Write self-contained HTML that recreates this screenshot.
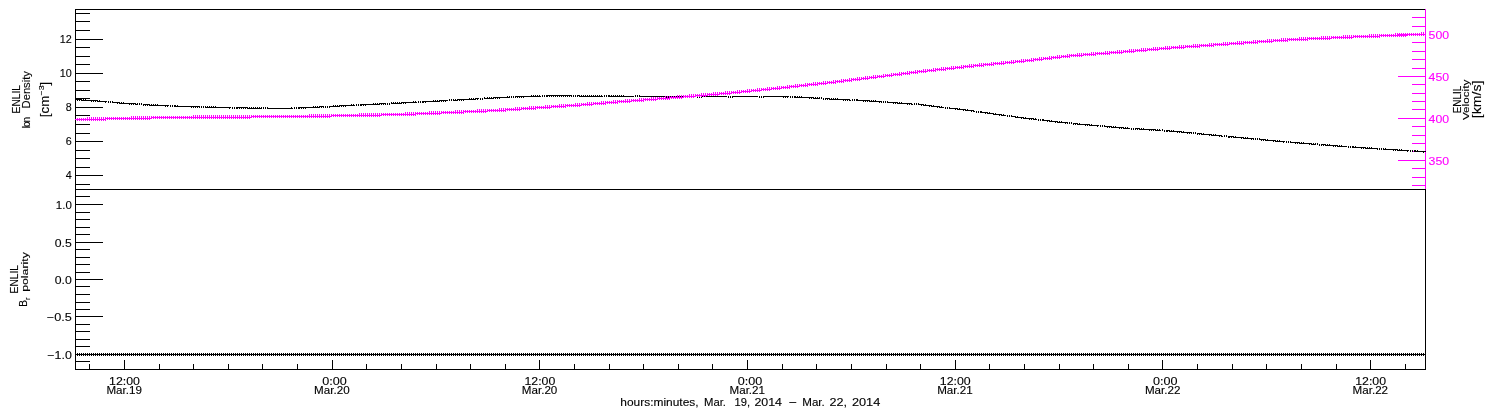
<!DOCTYPE html>
<html><head><meta charset="utf-8"><title>ENLIL plot</title>
<style>
html,body{margin:0;padding:0;background:#fff;}
body{width:1500px;height:410px;overflow:hidden;font-family:"Liberation Sans",sans-serif;}
svg{display:block;font-family:"Liberation Sans",sans-serif;will-change:transform;}
</style></head>
<body>
<svg width="1500" height="410" viewBox="0 0 1500 410">
<g shape-rendering="crispEdges">
<path d="M75 9h1351v1h-1351zM75 189h1351v1h-1351zM75 369h1351v1h-1351zM75 9h1v361h-1zM1425 189h1v181h-1zM75 184h15v1h-15zM75 175h28v1h-28zM75 167h15v1h-15zM75 158h15v1h-15zM75 150h15v1h-15zM75 141h28v1h-28zM75 133h15v1h-15zM75 124h15v1h-15zM75 115h15v1h-15zM75 107h28v1h-28zM75 98h15v1h-15zM75 90h15v1h-15zM75 81h15v1h-15zM75 73h28v1h-28zM75 64h15v1h-15zM75 56h15v1h-15zM75 47h15v1h-15zM75 39h28v1h-28zM75 30h15v1h-15zM75 21h15v1h-15zM75 13h15v1h-15zM75 196h15v1h-15zM75 204h28v1h-28zM75 212h15v1h-15zM75 219h15v1h-15zM75 227h15v1h-15zM75 234h15v1h-15zM75 242h28v1h-28zM75 249h15v1h-15zM75 257h15v1h-15zM75 264h15v1h-15zM75 272h15v1h-15zM75 279h28v1h-28zM75 286h15v1h-15zM75 294h15v1h-15zM75 302h15v1h-15zM75 309h15v1h-15zM75 316h28v1h-28zM75 324h15v1h-15zM75 331h15v1h-15zM75 339h15v1h-15zM75 346h15v1h-15zM75 354h28v1h-28zM75 361h15v1h-15zM89 364h1v5h-1zM124 360h1v9h-1zM159 364h1v5h-1zM193 364h1v5h-1zM228 364h1v5h-1zM262 364h1v5h-1zM297 364h1v5h-1zM332 360h1v9h-1zM366 364h1v5h-1zM401 364h1v5h-1zM436 364h1v5h-1zM470 364h1v5h-1zM505 364h1v5h-1zM539 360h1v9h-1zM574 364h1v5h-1zM609 364h1v5h-1zM643 364h1v5h-1zM678 364h1v5h-1zM712 364h1v5h-1zM747 360h1v9h-1zM782 364h1v5h-1zM816 364h1v5h-1zM851 364h1v5h-1zM886 364h1v5h-1zM920 364h1v5h-1zM955 360h1v9h-1zM989 364h1v5h-1zM1024 364h1v5h-1zM1059 364h1v5h-1zM1093 364h1v5h-1zM1128 364h1v5h-1zM1162 360h1v9h-1zM1197 364h1v5h-1zM1232 364h1v5h-1zM1266 364h1v5h-1zM1301 364h1v5h-1zM1336 364h1v5h-1zM1370 360h1v9h-1zM1405 364h1v5h-1z" fill="#000"/>
<path d="M1425 9h1v180h-1zM1412 17h13v1h-13zM1412 26h13v1h-13zM1398 34h27v1h-27zM1412 42h13v1h-13zM1412 51h13v1h-13zM1412 59h13v1h-13zM1412 68h13v1h-13zM1398 76h27v1h-27zM1412 84h13v1h-13zM1412 93h13v1h-13zM1412 101h13v1h-13zM1412 109h13v1h-13zM1398 118h27v1h-27zM1412 126h13v1h-13zM1412 135h13v1h-13zM1412 143h13v1h-13zM1412 151h13v1h-13zM1398 160h27v1h-27zM1412 168h13v1h-13zM1412 177h13v1h-13zM1412 185h13v1h-13z" fill="#ff00ff"/>
<path d="M75 99h1v1h-1zM76 99h1v1h-1zM77 99h1v1h-1zM77 100h1v1h-1zM78 99h1v1h-1zM79 99h1v1h-1zM79 100h1v1h-1zM80 99h1v1h-1zM81 100h1v1h-1zM81 99h1v1h-1zM82 100h1v1h-1zM83 100h1v1h-1zM83 99h1v1h-1zM84 100h1v1h-1zM85 100h1v1h-1zM85 99h1v1h-1zM86 100h1v1h-1zM87 100h1v1h-1zM88 100h1v1h-1zM89 100h1v1h-1zM90 100h1v1h-1zM91 100h1v1h-1zM91 101h1v1h-1zM92 100h1v1h-1zM93 100h1v1h-1zM93 101h1v1h-1zM94 100h1v1h-1zM95 100h1v1h-1zM95 101h1v1h-1zM96 100h1v1h-1zM97 101h1v1h-1zM97 100h1v1h-1zM98 101h1v1h-1zM99 101h1v1h-1zM99 100h1v1h-1zM100 101h1v1h-1zM101 101h1v1h-1zM102 101h1v1h-1zM103 101h1v1h-1zM104 101h1v1h-1zM105 101h1v1h-1zM105 102h1v1h-1zM106 101h1v1h-1zM108 101h1v2h-1zM110 101h1v2h-1zM112 101h1v2h-1zM113 102h1v1h-1zM114 102h1v1h-1zM115 102h1v1h-1zM116 102h1v1h-1zM117 102h1v1h-1zM117 103h1v1h-1zM118 102h1v1h-1zM119 102h1v1h-1zM119 103h1v1h-1zM120 103h1v1h-1zM121 103h1v1h-1zM121 102h1v1h-1zM122 103h1v1h-1zM123 103h1v1h-1zM123 102h1v1h-1zM124 103h1v1h-1zM125 103h1v1h-1zM126 103h1v1h-1zM127 103h1v1h-1zM128 103h1v1h-1zM129 103h1v1h-1zM129 104h1v1h-1zM130 103h1v1h-1zM131 103h1v1h-1zM131 104h1v1h-1zM132 103h1v1h-1zM133 103h1v1h-1zM133 104h1v1h-1zM134 103h1v1h-1zM135 104h1v1h-1zM135 103h1v1h-1zM136 104h1v1h-1zM137 104h1v1h-1zM137 103h1v1h-1zM139 103h1v2h-1zM141 103h1v2h-1zM143 104h1v2h-1zM144 104h1v1h-1zM145 104h1v1h-1zM145 105h1v1h-1zM146 104h1v1h-1zM147 104h1v1h-1zM147 105h1v1h-1zM148 104h1v1h-1zM149 104h1v1h-1zM149 105h1v1h-1zM150 105h1v1h-1zM151 105h1v1h-1zM151 104h1v1h-1zM152 105h1v1h-1zM153 105h1v1h-1zM153 104h1v1h-1zM154 105h1v1h-1zM155 105h1v1h-1zM155 104h1v1h-1zM156 105h1v1h-1zM157 105h1v1h-1zM157 104h1v1h-1zM158 105h1v1h-1zM159 105h1v1h-1zM160 105h1v1h-1zM161 105h1v1h-1zM162 105h1v1h-1zM163 105h1v1h-1zM164 105h1v1h-1zM165 105h1v1h-1zM165 106h1v1h-1zM166 105h1v1h-1zM167 105h1v1h-1zM167 106h1v1h-1zM168 105h1v1h-1zM170 105h1v2h-1zM172 105h1v2h-1zM174 105h1v2h-1zM175 106h1v1h-1zM175 105h1v1h-1zM176 106h1v1h-1zM177 106h1v1h-1zM177 105h1v1h-1zM178 106h1v1h-1zM179 106h1v1h-1zM180 106h1v1h-1zM181 106h1v1h-1zM182 106h1v1h-1zM183 106h1v1h-1zM184 106h1v1h-1zM185 106h1v1h-1zM186 106h1v1h-1zM187 106h1v1h-1zM188 106h1v1h-1zM189 106h1v1h-1zM190 106h1v1h-1zM191 106h1v1h-1zM191 107h1v1h-1zM192 106h1v1h-1zM193 106h1v1h-1zM193 107h1v1h-1zM194 106h1v1h-1zM195 106h1v1h-1zM195 107h1v1h-1zM196 106h1v1h-1zM197 106h1v1h-1zM197 107h1v1h-1zM198 106h1v1h-1zM199 106h1v1h-1zM199 107h1v1h-1zM201 106h1v2h-1zM203 106h1v2h-1zM205 106h1v2h-1zM206 107h1v1h-1zM207 107h1v1h-1zM207 106h1v1h-1zM208 107h1v1h-1zM209 107h1v1h-1zM209 106h1v1h-1zM210 107h1v1h-1zM211 107h1v1h-1zM211 106h1v1h-1zM212 107h1v1h-1zM213 107h1v1h-1zM213 106h1v1h-1zM214 107h1v1h-1zM215 107h1v1h-1zM215 106h1v1h-1zM216 107h1v1h-1zM217 107h1v1h-1zM218 107h1v1h-1zM219 107h1v1h-1zM220 107h1v1h-1zM221 107h1v1h-1zM222 107h1v1h-1zM223 107h1v1h-1zM224 107h1v1h-1zM225 107h1v1h-1zM226 107h1v1h-1zM227 107h1v1h-1zM228 107h1v1h-1zM229 107h1v1h-1zM229 108h1v1h-1zM230 107h1v1h-1zM232 107h1v2h-1zM234 107h1v2h-1zM236 107h1v2h-1zM237 107h1v1h-1zM237 108h1v1h-1zM238 107h1v1h-1zM239 107h1v1h-1zM239 108h1v1h-1zM240 107h1v1h-1zM241 107h1v1h-1zM241 108h1v1h-1zM242 107h1v1h-1zM243 107h1v1h-1zM243 108h1v1h-1zM244 107h1v1h-1zM245 107h1v1h-1zM245 108h1v1h-1zM246 107h1v1h-1zM247 107h1v1h-1zM247 108h1v1h-1zM248 108h1v1h-1zM249 108h1v1h-1zM249 107h1v1h-1zM250 108h1v1h-1zM251 108h1v1h-1zM251 107h1v1h-1zM252 108h1v1h-1zM253 108h1v1h-1zM253 107h1v1h-1zM254 108h1v1h-1zM255 108h1v1h-1zM255 107h1v1h-1zM256 108h1v1h-1zM257 108h1v1h-1zM257 107h1v1h-1zM258 108h1v1h-1zM259 108h1v1h-1zM259 107h1v1h-1zM260 108h1v1h-1zM261 108h1v1h-1zM261 107h1v1h-1zM263 107h1v2h-1zM265 107h1v2h-1zM267 107h1v2h-1zM268 108h1v1h-1zM269 108h1v1h-1zM270 108h1v1h-1zM271 108h1v1h-1zM272 108h1v1h-1zM273 108h1v1h-1zM274 108h1v1h-1zM275 108h1v1h-1zM276 108h1v1h-1zM277 108h1v1h-1zM278 108h1v1h-1zM279 108h1v1h-1zM280 108h1v1h-1zM281 108h1v1h-1zM282 108h1v1h-1zM283 108h1v1h-1zM284 108h1v1h-1zM285 108h1v1h-1zM286 108h1v1h-1zM287 108h1v1h-1zM288 108h1v1h-1zM289 108h1v1h-1zM290 108h1v1h-1zM291 108h1v1h-1zM291 107h1v1h-1zM292 108h1v1h-1zM294 107h1v2h-1zM296 107h1v2h-1zM298 107h1v2h-1zM299 107h1v1h-1zM299 108h1v1h-1zM300 107h1v1h-1zM301 107h1v1h-1zM301 108h1v1h-1zM302 107h1v1h-1zM303 107h1v1h-1zM303 108h1v1h-1zM304 107h1v1h-1zM305 107h1v1h-1zM305 108h1v1h-1zM306 107h1v1h-1zM307 107h1v1h-1zM308 107h1v1h-1zM309 107h1v1h-1zM310 107h1v1h-1zM311 107h1v1h-1zM312 107h1v1h-1zM313 107h1v1h-1zM313 106h1v1h-1zM314 107h1v1h-1zM315 107h1v1h-1zM315 106h1v1h-1zM316 107h1v1h-1zM317 107h1v1h-1zM317 106h1v1h-1zM318 107h1v1h-1zM319 107h1v1h-1zM319 106h1v1h-1zM320 106h1v1h-1zM321 106h1v1h-1zM321 107h1v1h-1zM322 106h1v1h-1zM323 106h1v1h-1zM323 107h1v1h-1zM325 106h1v2h-1zM327 106h1v2h-1zM329 106h1v2h-1zM330 106h1v1h-1zM331 106h1v1h-1zM332 106h1v1h-1zM333 106h1v1h-1zM333 105h1v1h-1zM334 106h1v1h-1zM335 106h1v1h-1zM335 105h1v1h-1zM336 106h1v1h-1zM337 106h1v1h-1zM337 105h1v1h-1zM338 106h1v1h-1zM339 105h1v1h-1zM339 106h1v1h-1zM340 105h1v1h-1zM341 105h1v1h-1zM341 106h1v1h-1zM342 105h1v1h-1zM343 105h1v1h-1zM343 106h1v1h-1zM344 105h1v1h-1zM345 105h1v1h-1zM345 106h1v1h-1zM346 105h1v1h-1zM347 105h1v1h-1zM348 105h1v1h-1zM349 105h1v1h-1zM350 105h1v1h-1zM351 105h1v1h-1zM351 104h1v1h-1zM352 105h1v1h-1zM353 105h1v1h-1zM353 104h1v1h-1zM354 105h1v1h-1zM356 104h1v2h-1zM358 104h1v2h-1zM360 104h1v2h-1zM361 104h1v1h-1zM361 105h1v1h-1zM362 104h1v1h-1zM363 104h1v1h-1zM363 105h1v1h-1zM364 104h1v1h-1zM365 104h1v1h-1zM365 105h1v1h-1zM366 104h1v1h-1zM367 104h1v1h-1zM368 104h1v1h-1zM369 104h1v1h-1zM370 104h1v1h-1zM371 104h1v1h-1zM372 104h1v1h-1zM373 104h1v1h-1zM373 103h1v1h-1zM374 104h1v1h-1zM375 104h1v1h-1zM375 103h1v1h-1zM376 104h1v1h-1zM377 104h1v1h-1zM377 103h1v1h-1zM378 104h1v1h-1zM379 104h1v1h-1zM379 103h1v1h-1zM380 103h1v1h-1zM381 103h1v1h-1zM381 104h1v1h-1zM382 103h1v1h-1zM383 103h1v1h-1zM383 104h1v1h-1zM384 103h1v1h-1zM385 103h1v1h-1zM385 104h1v1h-1zM387 103h1v2h-1zM389 103h1v2h-1zM391 102h1v2h-1zM392 103h1v1h-1zM393 103h1v1h-1zM393 102h1v1h-1zM394 103h1v1h-1zM395 103h1v1h-1zM395 102h1v1h-1zM396 103h1v1h-1zM397 103h1v1h-1zM397 102h1v1h-1zM398 103h1v1h-1zM399 103h1v1h-1zM399 102h1v1h-1zM400 103h1v1h-1zM401 102h1v1h-1zM401 103h1v1h-1zM402 102h1v1h-1zM403 102h1v1h-1zM403 103h1v1h-1zM404 102h1v1h-1zM405 102h1v1h-1zM405 103h1v1h-1zM406 102h1v1h-1zM407 102h1v1h-1zM408 102h1v1h-1zM409 102h1v1h-1zM410 102h1v1h-1zM411 102h1v1h-1zM412 102h1v1h-1zM413 102h1v1h-1zM413 101h1v1h-1zM414 102h1v1h-1zM415 102h1v1h-1zM415 101h1v1h-1zM416 102h1v1h-1zM418 101h1v2h-1zM420 101h1v2h-1zM422 101h1v2h-1zM423 101h1v1h-1zM423 102h1v1h-1zM424 101h1v1h-1zM425 101h1v1h-1zM425 102h1v1h-1zM426 101h1v1h-1zM427 101h1v1h-1zM428 101h1v1h-1zM429 101h1v1h-1zM430 101h1v1h-1zM431 101h1v1h-1zM432 101h1v1h-1zM433 101h1v1h-1zM433 100h1v1h-1zM434 101h1v1h-1zM435 101h1v1h-1zM435 100h1v1h-1zM436 101h1v1h-1zM437 101h1v1h-1zM437 100h1v1h-1zM438 101h1v1h-1zM439 100h1v1h-1zM439 101h1v1h-1zM440 100h1v1h-1zM441 100h1v1h-1zM441 101h1v1h-1zM442 100h1v1h-1zM443 100h1v1h-1zM443 101h1v1h-1zM444 100h1v1h-1zM445 100h1v1h-1zM445 101h1v1h-1zM446 100h1v1h-1zM447 100h1v1h-1zM449 99h1v2h-1zM451 99h1v2h-1zM453 99h1v2h-1zM454 100h1v1h-1zM455 100h1v1h-1zM455 99h1v1h-1zM456 100h1v1h-1zM457 100h1v1h-1zM457 99h1v1h-1zM458 99h1v1h-1zM459 99h1v1h-1zM459 100h1v1h-1zM460 99h1v1h-1zM461 99h1v1h-1zM461 100h1v1h-1zM462 99h1v1h-1zM463 99h1v1h-1zM463 100h1v1h-1zM464 99h1v1h-1zM465 99h1v1h-1zM466 99h1v1h-1zM467 99h1v1h-1zM468 99h1v1h-1zM469 99h1v1h-1zM469 98h1v1h-1zM470 99h1v1h-1zM471 99h1v1h-1zM471 98h1v1h-1zM472 99h1v1h-1zM473 99h1v1h-1zM473 98h1v1h-1zM474 99h1v1h-1zM475 99h1v1h-1zM475 98h1v1h-1zM476 98h1v1h-1zM477 98h1v1h-1zM477 99h1v1h-1zM478 98h1v1h-1zM480 98h1v2h-1zM482 98h1v2h-1zM484 97h1v2h-1zM485 98h1v1h-1zM486 98h1v1h-1zM487 98h1v1h-1zM487 97h1v1h-1zM488 98h1v1h-1zM489 98h1v1h-1zM489 97h1v1h-1zM490 98h1v1h-1zM491 98h1v1h-1zM491 97h1v1h-1zM492 98h1v1h-1zM493 97h1v1h-1zM493 98h1v1h-1zM494 97h1v1h-1zM495 97h1v1h-1zM495 98h1v1h-1zM496 97h1v1h-1zM497 97h1v1h-1zM497 98h1v1h-1zM498 97h1v1h-1zM499 97h1v1h-1zM499 98h1v1h-1zM500 97h1v1h-1zM501 97h1v1h-1zM502 97h1v1h-1zM503 97h1v1h-1zM504 97h1v1h-1zM505 97h1v1h-1zM506 97h1v1h-1zM507 97h1v1h-1zM507 96h1v1h-1zM508 97h1v1h-1zM509 97h1v1h-1zM509 96h1v1h-1zM511 96h1v2h-1zM513 96h1v2h-1zM515 96h1v2h-1zM516 96h1v1h-1zM517 96h1v1h-1zM517 97h1v1h-1zM518 96h1v1h-1zM519 96h1v1h-1zM519 97h1v1h-1zM520 96h1v1h-1zM521 96h1v1h-1zM521 97h1v1h-1zM522 96h1v1h-1zM523 96h1v1h-1zM523 97h1v1h-1zM524 96h1v1h-1zM525 96h1v1h-1zM526 96h1v1h-1zM527 96h1v1h-1zM528 96h1v1h-1zM529 96h1v1h-1zM530 96h1v1h-1zM531 96h1v1h-1zM531 95h1v1h-1zM532 96h1v1h-1zM533 96h1v1h-1zM533 95h1v1h-1zM534 96h1v1h-1zM535 96h1v1h-1zM535 95h1v1h-1zM536 96h1v1h-1zM537 96h1v1h-1zM537 95h1v1h-1zM538 96h1v1h-1zM539 96h1v1h-1zM539 95h1v1h-1zM540 96h1v1h-1zM542 95h1v2h-1zM544 95h1v2h-1zM546 95h1v2h-1zM547 95h1v1h-1zM547 96h1v1h-1zM548 95h1v1h-1zM549 95h1v1h-1zM549 96h1v1h-1zM550 95h1v1h-1zM551 95h1v1h-1zM551 96h1v1h-1zM552 95h1v1h-1zM553 95h1v1h-1zM553 96h1v1h-1zM554 95h1v1h-1zM555 95h1v1h-1zM555 96h1v1h-1zM556 95h1v1h-1zM557 95h1v1h-1zM557 96h1v1h-1zM558 95h1v1h-1zM559 95h1v1h-1zM559 96h1v1h-1zM560 95h1v1h-1zM561 95h1v1h-1zM561 96h1v1h-1zM562 95h1v1h-1zM563 95h1v1h-1zM563 96h1v1h-1zM564 95h1v1h-1zM565 95h1v1h-1zM565 96h1v1h-1zM566 95h1v1h-1zM567 95h1v1h-1zM567 96h1v1h-1zM568 95h1v1h-1zM569 95h1v1h-1zM569 96h1v1h-1zM570 95h1v1h-1zM571 95h1v1h-1zM571 96h1v1h-1zM573 95h1v2h-1zM575 95h1v2h-1zM577 95h1v2h-1zM578 95h1v1h-1zM579 95h1v1h-1zM579 96h1v1h-1zM580 96h1v1h-1zM581 96h1v1h-1zM581 95h1v1h-1zM582 96h1v1h-1zM583 96h1v1h-1zM583 95h1v1h-1zM584 96h1v1h-1zM585 96h1v1h-1zM585 95h1v1h-1zM586 96h1v1h-1zM587 96h1v1h-1zM587 95h1v1h-1zM588 96h1v1h-1zM589 96h1v1h-1zM589 95h1v1h-1zM590 96h1v1h-1zM591 96h1v1h-1zM591 95h1v1h-1zM592 96h1v1h-1zM593 96h1v1h-1zM593 95h1v1h-1zM594 96h1v1h-1zM595 96h1v1h-1zM595 95h1v1h-1zM596 96h1v1h-1zM597 96h1v1h-1zM597 95h1v1h-1zM598 96h1v1h-1zM599 96h1v1h-1zM599 95h1v1h-1zM600 96h1v1h-1zM601 96h1v1h-1zM601 95h1v1h-1zM602 96h1v1h-1zM604 95h1v2h-1zM606 95h1v2h-1zM608 95h1v2h-1zM609 96h1v1h-1zM609 95h1v1h-1zM610 96h1v1h-1zM611 96h1v1h-1zM611 95h1v1h-1zM612 96h1v1h-1zM613 96h1v1h-1zM613 95h1v1h-1zM614 96h1v1h-1zM615 96h1v1h-1zM615 95h1v1h-1zM616 96h1v1h-1zM617 96h1v1h-1zM617 95h1v1h-1zM618 96h1v1h-1zM619 96h1v1h-1zM619 95h1v1h-1zM620 96h1v1h-1zM621 96h1v1h-1zM621 95h1v1h-1zM622 96h1v1h-1zM623 96h1v1h-1zM623 95h1v1h-1zM624 96h1v1h-1zM625 96h1v1h-1zM626 96h1v1h-1zM627 96h1v1h-1zM628 96h1v1h-1zM629 96h1v1h-1zM630 96h1v1h-1zM631 96h1v1h-1zM632 96h1v1h-1zM633 96h1v1h-1zM635 95h1v2h-1zM637 95h1v2h-1zM639 95h1v2h-1zM640 96h1v1h-1zM641 96h1v1h-1zM642 96h1v1h-1zM643 96h1v1h-1zM644 96h1v1h-1zM645 96h1v1h-1zM646 96h1v1h-1zM647 96h1v1h-1zM648 96h1v1h-1zM649 96h1v1h-1zM650 96h1v1h-1zM651 96h1v1h-1zM652 96h1v1h-1zM653 96h1v1h-1zM654 96h1v1h-1zM655 96h1v1h-1zM656 96h1v1h-1zM657 96h1v1h-1zM658 96h1v1h-1zM659 96h1v1h-1zM660 96h1v1h-1zM661 96h1v1h-1zM662 96h1v1h-1zM663 96h1v1h-1zM664 96h1v1h-1zM666 96h1v2h-1zM668 96h1v2h-1zM670 96h1v2h-1zM671 96h1v1h-1zM672 96h1v1h-1zM673 96h1v1h-1zM674 96h1v1h-1zM675 96h1v1h-1zM676 96h1v1h-1zM677 96h1v1h-1zM678 96h1v1h-1zM679 96h1v1h-1zM680 96h1v1h-1zM681 96h1v1h-1zM682 96h1v1h-1zM683 96h1v1h-1zM684 96h1v1h-1zM685 96h1v1h-1zM686 96h1v1h-1zM687 96h1v1h-1zM688 96h1v1h-1zM689 96h1v1h-1zM690 96h1v1h-1zM691 96h1v1h-1zM692 96h1v1h-1zM693 96h1v1h-1zM694 96h1v1h-1zM695 96h1v1h-1zM697 96h1v2h-1zM699 96h1v2h-1zM701 96h1v2h-1zM702 96h1v1h-1zM703 96h1v1h-1zM704 96h1v1h-1zM705 96h1v1h-1zM706 96h1v1h-1zM707 96h1v1h-1zM708 96h1v1h-1zM709 96h1v1h-1zM710 96h1v1h-1zM711 96h1v1h-1zM712 96h1v1h-1zM713 96h1v1h-1zM714 96h1v1h-1zM715 96h1v1h-1zM716 96h1v1h-1zM717 96h1v1h-1zM718 96h1v1h-1zM719 96h1v1h-1zM720 96h1v1h-1zM721 96h1v1h-1zM722 96h1v1h-1zM723 96h1v1h-1zM724 96h1v1h-1zM725 96h1v1h-1zM726 96h1v1h-1zM728 96h1v2h-1zM730 96h1v2h-1zM732 96h1v2h-1zM733 96h1v1h-1zM734 96h1v1h-1zM735 96h1v1h-1zM736 96h1v1h-1zM737 96h1v1h-1zM738 96h1v1h-1zM739 96h1v1h-1zM740 96h1v1h-1zM741 96h1v1h-1zM742 96h1v1h-1zM743 96h1v1h-1zM744 96h1v1h-1zM745 96h1v1h-1zM746 96h1v1h-1zM747 96h1v1h-1zM748 96h1v1h-1zM749 96h1v1h-1zM750 96h1v1h-1zM751 96h1v1h-1zM752 96h1v1h-1zM753 96h1v1h-1zM754 96h1v1h-1zM755 96h1v1h-1zM756 96h1v1h-1zM757 96h1v1h-1zM759 96h1v2h-1zM761 96h1v2h-1zM763 96h1v2h-1zM764 96h1v1h-1zM765 96h1v1h-1zM766 96h1v1h-1zM767 96h1v1h-1zM768 96h1v1h-1zM769 96h1v1h-1zM770 96h1v1h-1zM771 96h1v1h-1zM772 96h1v1h-1zM773 96h1v1h-1zM774 96h1v1h-1zM775 96h1v1h-1zM776 96h1v1h-1zM777 96h1v1h-1zM778 96h1v1h-1zM779 96h1v1h-1zM780 96h1v1h-1zM781 96h1v1h-1zM782 96h1v1h-1zM783 96h1v1h-1zM783 97h1v1h-1zM784 96h1v1h-1zM785 96h1v1h-1zM785 97h1v1h-1zM786 96h1v1h-1zM787 96h1v1h-1zM787 97h1v1h-1zM788 96h1v1h-1zM790 96h1v2h-1zM792 96h1v2h-1zM794 96h1v2h-1zM795 97h1v1h-1zM795 96h1v1h-1zM796 97h1v1h-1zM797 97h1v1h-1zM797 96h1v1h-1zM798 97h1v1h-1zM799 97h1v1h-1zM799 96h1v1h-1zM800 97h1v1h-1zM801 97h1v1h-1zM801 96h1v1h-1zM802 97h1v1h-1zM803 97h1v1h-1zM804 97h1v1h-1zM805 97h1v1h-1zM806 97h1v1h-1zM807 97h1v1h-1zM808 97h1v1h-1zM809 97h1v1h-1zM809 98h1v1h-1zM810 97h1v1h-1zM811 97h1v1h-1zM811 98h1v1h-1zM812 97h1v1h-1zM813 97h1v1h-1zM813 98h1v1h-1zM814 98h1v1h-1zM815 98h1v1h-1zM815 97h1v1h-1zM816 98h1v1h-1zM817 98h1v1h-1zM817 97h1v1h-1zM818 98h1v1h-1zM819 98h1v1h-1zM819 97h1v1h-1zM821 97h1v2h-1zM823 98h1v2h-1zM825 98h1v2h-1zM826 98h1v1h-1zM827 98h1v1h-1zM827 99h1v1h-1zM828 98h1v1h-1zM829 98h1v1h-1zM829 99h1v1h-1zM830 99h1v1h-1zM831 99h1v1h-1zM831 98h1v1h-1zM832 99h1v1h-1zM833 99h1v1h-1zM833 98h1v1h-1zM834 99h1v1h-1zM835 99h1v1h-1zM835 98h1v1h-1zM836 99h1v1h-1zM837 99h1v1h-1zM837 98h1v1h-1zM838 99h1v1h-1zM839 99h1v1h-1zM840 99h1v1h-1zM841 99h1v1h-1zM842 99h1v1h-1zM843 99h1v1h-1zM843 100h1v1h-1zM844 99h1v1h-1zM845 99h1v1h-1zM845 100h1v1h-1zM846 99h1v1h-1zM847 99h1v1h-1zM847 100h1v1h-1zM848 99h1v1h-1zM849 99h1v1h-1zM849 100h1v1h-1zM850 100h1v1h-1zM852 99h1v2h-1zM854 99h1v2h-1zM856 99h1v2h-1zM857 100h1v1h-1zM857 99h1v1h-1zM858 100h1v1h-1zM859 100h1v1h-1zM860 100h1v1h-1zM861 100h1v1h-1zM862 100h1v1h-1zM863 100h1v1h-1zM863 101h1v1h-1zM864 100h1v1h-1zM865 100h1v1h-1zM865 101h1v1h-1zM866 100h1v1h-1zM867 100h1v1h-1zM867 101h1v1h-1zM868 100h1v1h-1zM869 100h1v1h-1zM869 101h1v1h-1zM870 101h1v1h-1zM871 101h1v1h-1zM871 100h1v1h-1zM872 101h1v1h-1zM873 101h1v1h-1zM873 100h1v1h-1zM874 101h1v1h-1zM875 101h1v1h-1zM875 100h1v1h-1zM876 101h1v1h-1zM877 101h1v1h-1zM878 101h1v1h-1zM879 101h1v1h-1zM879 102h1v1h-1zM880 101h1v1h-1zM881 101h1v1h-1zM881 102h1v1h-1zM883 101h1v2h-1zM885 101h1v2h-1zM887 101h1v2h-1zM888 102h1v1h-1zM889 102h1v1h-1zM890 102h1v1h-1zM891 102h1v1h-1zM892 102h1v1h-1zM893 102h1v1h-1zM893 103h1v1h-1zM894 102h1v1h-1zM895 102h1v1h-1zM895 103h1v1h-1zM896 102h1v1h-1zM897 102h1v1h-1zM897 103h1v1h-1zM898 103h1v1h-1zM899 103h1v1h-1zM899 102h1v1h-1zM900 103h1v1h-1zM901 103h1v1h-1zM901 102h1v1h-1zM902 103h1v1h-1zM903 103h1v1h-1zM904 103h1v1h-1zM905 103h1v1h-1zM906 103h1v1h-1zM907 103h1v1h-1zM907 104h1v1h-1zM908 103h1v1h-1zM909 103h1v1h-1zM909 104h1v1h-1zM910 103h1v1h-1zM911 103h1v1h-1zM911 104h1v1h-1zM912 104h1v1h-1zM914 103h1v2h-1zM916 103h1v2h-1zM918 103h1v2h-1zM919 104h1v1h-1zM920 104h1v1h-1zM921 104h1v1h-1zM921 105h1v1h-1zM922 104h1v1h-1zM923 104h1v1h-1zM923 105h1v1h-1zM924 105h1v1h-1zM925 105h1v1h-1zM925 104h1v1h-1zM926 105h1v1h-1zM927 105h1v1h-1zM928 105h1v1h-1zM929 105h1v1h-1zM929 106h1v1h-1zM930 105h1v1h-1zM931 105h1v1h-1zM931 106h1v1h-1zM932 106h1v1h-1zM933 106h1v1h-1zM933 105h1v1h-1zM934 106h1v1h-1zM935 106h1v1h-1zM936 106h1v1h-1zM937 106h1v1h-1zM937 107h1v1h-1zM938 106h1v1h-1zM939 106h1v1h-1zM939 107h1v1h-1zM940 107h1v1h-1zM941 107h1v1h-1zM941 106h1v1h-1zM942 107h1v1h-1zM943 107h1v1h-1zM945 107h1v2h-1zM947 107h1v2h-1zM949 107h1v2h-1zM950 108h1v1h-1zM951 108h1v1h-1zM952 108h1v1h-1zM953 108h1v1h-1zM954 108h1v1h-1zM955 108h1v1h-1zM955 109h1v1h-1zM956 108h1v1h-1zM957 109h1v1h-1zM957 108h1v1h-1zM958 109h1v1h-1zM959 109h1v1h-1zM959 108h1v1h-1zM960 109h1v1h-1zM961 109h1v1h-1zM962 109h1v1h-1zM963 109h1v1h-1zM963 110h1v1h-1zM964 109h1v1h-1zM965 110h1v1h-1zM965 109h1v1h-1zM966 110h1v1h-1zM967 110h1v1h-1zM967 109h1v1h-1zM968 110h1v1h-1zM969 110h1v1h-1zM970 110h1v1h-1zM971 110h1v1h-1zM971 111h1v1h-1zM972 110h1v1h-1zM973 111h1v1h-1zM973 110h1v1h-1zM974 111h1v1h-1zM976 111h1v2h-1zM978 111h1v2h-1zM980 111h1v2h-1zM981 112h1v1h-1zM981 111h1v1h-1zM982 112h1v1h-1zM983 112h1v1h-1zM984 112h1v1h-1zM985 112h1v1h-1zM985 113h1v1h-1zM986 112h1v1h-1zM987 113h1v1h-1zM987 112h1v1h-1zM988 113h1v1h-1zM989 113h1v1h-1zM989 112h1v1h-1zM990 113h1v1h-1zM991 113h1v1h-1zM992 113h1v1h-1zM993 113h1v1h-1zM993 114h1v1h-1zM994 114h1v1h-1zM995 114h1v1h-1zM995 113h1v1h-1zM996 114h1v1h-1zM997 114h1v1h-1zM998 114h1v1h-1zM999 114h1v1h-1zM999 115h1v1h-1zM1000 114h1v1h-1zM1001 114h1v1h-1zM1001 115h1v1h-1zM1002 115h1v1h-1zM1003 115h1v1h-1zM1003 114h1v1h-1zM1004 115h1v1h-1zM1005 115h1v1h-1zM1007 115h1v2h-1zM1009 115h1v2h-1zM1011 115h1v2h-1zM1012 116h1v1h-1zM1013 116h1v1h-1zM1014 116h1v1h-1zM1015 116h1v1h-1zM1015 117h1v1h-1zM1016 117h1v1h-1zM1017 117h1v1h-1zM1017 116h1v1h-1zM1018 117h1v1h-1zM1019 117h1v1h-1zM1020 117h1v1h-1zM1021 117h1v1h-1zM1021 118h1v1h-1zM1022 117h1v1h-1zM1023 117h1v1h-1zM1023 118h1v1h-1zM1024 118h1v1h-1zM1025 118h1v1h-1zM1025 117h1v1h-1zM1026 118h1v1h-1zM1027 118h1v1h-1zM1028 118h1v1h-1zM1029 118h1v1h-1zM1029 119h1v1h-1zM1030 118h1v1h-1zM1031 118h1v1h-1zM1031 119h1v1h-1zM1032 118h1v1h-1zM1033 119h1v1h-1zM1033 118h1v1h-1zM1034 119h1v1h-1zM1035 119h1v1h-1zM1035 118h1v1h-1zM1036 119h1v1h-1zM1038 119h1v2h-1zM1040 119h1v2h-1zM1042 119h1v2h-1zM1043 120h1v1h-1zM1043 119h1v1h-1zM1044 120h1v1h-1zM1045 120h1v1h-1zM1046 120h1v1h-1zM1047 120h1v1h-1zM1047 121h1v1h-1zM1048 120h1v1h-1zM1049 120h1v1h-1zM1049 121h1v1h-1zM1050 121h1v1h-1zM1051 121h1v1h-1zM1051 120h1v1h-1zM1052 121h1v1h-1zM1053 121h1v1h-1zM1054 121h1v1h-1zM1055 121h1v1h-1zM1055 122h1v1h-1zM1056 121h1v1h-1zM1057 121h1v1h-1zM1057 122h1v1h-1zM1058 122h1v1h-1zM1059 122h1v1h-1zM1059 121h1v1h-1zM1060 122h1v1h-1zM1061 122h1v1h-1zM1061 121h1v1h-1zM1062 122h1v1h-1zM1063 122h1v1h-1zM1064 122h1v1h-1zM1065 122h1v1h-1zM1065 123h1v1h-1zM1066 122h1v1h-1zM1067 123h1v1h-1zM1067 122h1v1h-1zM1069 122h1v2h-1zM1071 122h1v2h-1zM1073 123h1v2h-1zM1074 123h1v1h-1zM1075 123h1v1h-1zM1075 124h1v1h-1zM1076 123h1v1h-1zM1077 124h1v1h-1zM1077 123h1v1h-1zM1078 124h1v1h-1zM1079 124h1v1h-1zM1079 123h1v1h-1zM1080 124h1v1h-1zM1081 124h1v1h-1zM1082 124h1v1h-1zM1083 124h1v1h-1zM1084 124h1v1h-1zM1085 124h1v1h-1zM1085 125h1v1h-1zM1086 124h1v1h-1zM1087 124h1v1h-1zM1087 125h1v1h-1zM1088 124h1v1h-1zM1089 125h1v1h-1zM1089 124h1v1h-1zM1090 125h1v1h-1zM1091 125h1v1h-1zM1091 124h1v1h-1zM1092 125h1v1h-1zM1093 125h1v1h-1zM1094 125h1v1h-1zM1095 125h1v1h-1zM1096 125h1v1h-1zM1097 125h1v1h-1zM1097 126h1v1h-1zM1098 125h1v1h-1zM1100 125h1v2h-1zM1102 125h1v2h-1zM1104 125h1v2h-1zM1105 126h1v1h-1zM1106 126h1v1h-1zM1107 126h1v1h-1zM1107 127h1v1h-1zM1108 126h1v1h-1zM1109 126h1v1h-1zM1109 127h1v1h-1zM1110 126h1v1h-1zM1111 127h1v1h-1zM1111 126h1v1h-1zM1112 127h1v1h-1zM1113 127h1v1h-1zM1113 126h1v1h-1zM1114 127h1v1h-1zM1115 127h1v1h-1zM1115 126h1v1h-1zM1116 127h1v1h-1zM1117 127h1v1h-1zM1118 127h1v1h-1zM1119 127h1v1h-1zM1119 128h1v1h-1zM1120 127h1v1h-1zM1121 127h1v1h-1zM1121 128h1v1h-1zM1122 127h1v1h-1zM1123 127h1v1h-1zM1123 128h1v1h-1zM1124 128h1v1h-1zM1125 128h1v1h-1zM1125 127h1v1h-1zM1126 128h1v1h-1zM1127 128h1v1h-1zM1127 127h1v1h-1zM1128 128h1v1h-1zM1129 128h1v1h-1zM1131 128h1v2h-1zM1133 128h1v2h-1zM1135 128h1v2h-1zM1136 128h1v1h-1zM1137 128h1v1h-1zM1137 129h1v1h-1zM1138 128h1v1h-1zM1139 129h1v1h-1zM1139 128h1v1h-1zM1140 129h1v1h-1zM1141 129h1v1h-1zM1141 128h1v1h-1zM1142 129h1v1h-1zM1143 129h1v1h-1zM1143 128h1v1h-1zM1144 129h1v1h-1zM1145 129h1v1h-1zM1146 129h1v1h-1zM1147 129h1v1h-1zM1148 129h1v1h-1zM1149 129h1v1h-1zM1149 130h1v1h-1zM1150 129h1v1h-1zM1151 129h1v1h-1zM1151 130h1v1h-1zM1152 129h1v1h-1zM1153 129h1v1h-1zM1153 130h1v1h-1zM1154 129h1v1h-1zM1155 130h1v1h-1zM1155 129h1v1h-1zM1156 130h1v1h-1zM1157 130h1v1h-1zM1157 129h1v1h-1zM1158 130h1v1h-1zM1159 130h1v1h-1zM1159 129h1v1h-1zM1160 130h1v1h-1zM1162 129h1v2h-1zM1164 130h1v2h-1zM1166 130h1v2h-1zM1167 130h1v1h-1zM1167 131h1v1h-1zM1168 130h1v1h-1zM1169 130h1v1h-1zM1169 131h1v1h-1zM1170 131h1v1h-1zM1171 131h1v1h-1zM1171 130h1v1h-1zM1172 131h1v1h-1zM1173 131h1v1h-1zM1173 130h1v1h-1zM1174 131h1v1h-1zM1175 131h1v1h-1zM1176 131h1v1h-1zM1177 131h1v1h-1zM1177 132h1v1h-1zM1178 131h1v1h-1zM1179 131h1v1h-1zM1179 132h1v1h-1zM1180 131h1v1h-1zM1181 132h1v1h-1zM1181 131h1v1h-1zM1182 132h1v1h-1zM1183 132h1v1h-1zM1183 131h1v1h-1zM1184 132h1v1h-1zM1185 132h1v1h-1zM1186 132h1v1h-1zM1187 132h1v1h-1zM1187 133h1v1h-1zM1188 132h1v1h-1zM1189 132h1v1h-1zM1189 133h1v1h-1zM1190 132h1v1h-1zM1191 133h1v1h-1zM1191 132h1v1h-1zM1193 132h1v2h-1zM1195 132h1v2h-1zM1197 133h1v2h-1zM1198 133h1v1h-1zM1199 133h1v1h-1zM1199 134h1v1h-1zM1200 133h1v1h-1zM1201 133h1v1h-1zM1201 134h1v1h-1zM1202 134h1v1h-1zM1203 134h1v1h-1zM1203 133h1v1h-1zM1204 134h1v1h-1zM1205 134h1v1h-1zM1206 134h1v1h-1zM1207 134h1v1h-1zM1208 134h1v1h-1zM1209 134h1v1h-1zM1209 135h1v1h-1zM1210 134h1v1h-1zM1211 134h1v1h-1zM1211 135h1v1h-1zM1212 135h1v1h-1zM1213 135h1v1h-1zM1213 134h1v1h-1zM1214 135h1v1h-1zM1215 135h1v1h-1zM1215 134h1v1h-1zM1216 135h1v1h-1zM1217 135h1v1h-1zM1218 135h1v1h-1zM1219 135h1v1h-1zM1219 136h1v1h-1zM1220 135h1v1h-1zM1221 135h1v1h-1zM1221 136h1v1h-1zM1222 136h1v1h-1zM1224 135h1v2h-1zM1226 135h1v2h-1zM1228 136h1v2h-1zM1229 136h1v1h-1zM1229 137h1v1h-1zM1230 136h1v1h-1zM1231 136h1v1h-1zM1231 137h1v1h-1zM1232 136h1v1h-1zM1233 137h1v1h-1zM1233 136h1v1h-1zM1234 137h1v1h-1zM1235 137h1v1h-1zM1235 136h1v1h-1zM1236 137h1v1h-1zM1237 137h1v1h-1zM1238 137h1v1h-1zM1239 137h1v1h-1zM1240 137h1v1h-1zM1241 137h1v1h-1zM1241 138h1v1h-1zM1242 137h1v1h-1zM1243 137h1v1h-1zM1243 138h1v1h-1zM1244 138h1v1h-1zM1245 138h1v1h-1zM1245 137h1v1h-1zM1246 138h1v1h-1zM1247 138h1v1h-1zM1247 137h1v1h-1zM1248 138h1v1h-1zM1249 138h1v1h-1zM1250 138h1v1h-1zM1251 138h1v1h-1zM1251 139h1v1h-1zM1252 138h1v1h-1zM1253 138h1v1h-1zM1253 139h1v1h-1zM1255 138h1v2h-1zM1257 138h1v2h-1zM1259 138h1v2h-1zM1260 139h1v1h-1zM1261 139h1v1h-1zM1261 140h1v1h-1zM1262 139h1v1h-1zM1263 139h1v1h-1zM1263 140h1v1h-1zM1264 139h1v1h-1zM1265 140h1v1h-1zM1265 139h1v1h-1zM1266 140h1v1h-1zM1267 140h1v1h-1zM1267 139h1v1h-1zM1268 140h1v1h-1zM1269 140h1v1h-1zM1270 140h1v1h-1zM1271 140h1v1h-1zM1272 140h1v1h-1zM1273 140h1v1h-1zM1273 141h1v1h-1zM1274 140h1v1h-1zM1275 140h1v1h-1zM1275 141h1v1h-1zM1276 141h1v1h-1zM1277 141h1v1h-1zM1277 140h1v1h-1zM1278 141h1v1h-1zM1279 141h1v1h-1zM1279 140h1v1h-1zM1280 141h1v1h-1zM1281 141h1v1h-1zM1282 141h1v1h-1zM1283 141h1v1h-1zM1283 142h1v1h-1zM1284 141h1v1h-1zM1286 141h1v2h-1zM1288 141h1v2h-1zM1290 141h1v2h-1zM1291 142h1v1h-1zM1292 142h1v1h-1zM1293 142h1v1h-1zM1294 142h1v1h-1zM1295 142h1v1h-1zM1295 143h1v1h-1zM1296 142h1v1h-1zM1297 142h1v1h-1zM1297 143h1v1h-1zM1298 142h1v1h-1zM1299 143h1v1h-1zM1299 142h1v1h-1zM1300 143h1v1h-1zM1301 143h1v1h-1zM1301 142h1v1h-1zM1302 143h1v1h-1zM1303 143h1v1h-1zM1303 142h1v1h-1zM1304 143h1v1h-1zM1305 143h1v1h-1zM1306 143h1v1h-1zM1307 143h1v1h-1zM1308 143h1v1h-1zM1309 143h1v1h-1zM1309 144h1v1h-1zM1310 143h1v1h-1zM1311 143h1v1h-1zM1311 144h1v1h-1zM1312 144h1v1h-1zM1313 144h1v1h-1zM1313 143h1v1h-1zM1314 144h1v1h-1zM1315 144h1v1h-1zM1315 143h1v1h-1zM1317 143h1v2h-1zM1319 144h1v2h-1zM1321 144h1v2h-1zM1322 144h1v1h-1zM1323 144h1v1h-1zM1323 145h1v1h-1zM1324 144h1v1h-1zM1325 145h1v1h-1zM1325 144h1v1h-1zM1326 145h1v1h-1zM1327 145h1v1h-1zM1327 144h1v1h-1zM1328 145h1v1h-1zM1329 145h1v1h-1zM1329 144h1v1h-1zM1330 145h1v1h-1zM1331 145h1v1h-1zM1332 145h1v1h-1zM1333 145h1v1h-1zM1333 146h1v1h-1zM1334 145h1v1h-1zM1335 145h1v1h-1zM1335 146h1v1h-1zM1336 145h1v1h-1zM1337 145h1v1h-1zM1337 146h1v1h-1zM1338 146h1v1h-1zM1339 146h1v1h-1zM1339 145h1v1h-1zM1340 146h1v1h-1zM1341 146h1v1h-1zM1341 145h1v1h-1zM1342 146h1v1h-1zM1343 146h1v1h-1zM1344 146h1v1h-1zM1345 146h1v1h-1zM1346 146h1v1h-1zM1348 146h1v2h-1zM1350 146h1v2h-1zM1352 146h1v2h-1zM1353 147h1v1h-1zM1353 146h1v1h-1zM1354 147h1v1h-1zM1355 147h1v1h-1zM1355 146h1v1h-1zM1356 147h1v1h-1zM1357 147h1v1h-1zM1358 147h1v1h-1zM1359 147h1v1h-1zM1360 147h1v1h-1zM1361 147h1v1h-1zM1361 148h1v1h-1zM1362 147h1v1h-1zM1363 147h1v1h-1zM1363 148h1v1h-1zM1364 147h1v1h-1zM1365 147h1v1h-1zM1365 148h1v1h-1zM1366 148h1v1h-1zM1367 148h1v1h-1zM1367 147h1v1h-1zM1368 148h1v1h-1zM1369 148h1v1h-1zM1369 147h1v1h-1zM1370 148h1v1h-1zM1371 148h1v1h-1zM1371 147h1v1h-1zM1372 148h1v1h-1zM1373 148h1v1h-1zM1374 148h1v1h-1zM1375 148h1v1h-1zM1376 148h1v1h-1zM1377 148h1v1h-1zM1377 149h1v1h-1zM1379 148h1v2h-1zM1381 148h1v2h-1zM1383 148h1v2h-1zM1384 149h1v1h-1zM1385 149h1v1h-1zM1385 148h1v1h-1zM1386 149h1v1h-1zM1387 149h1v1h-1zM1388 149h1v1h-1zM1389 149h1v1h-1zM1390 149h1v1h-1zM1391 149h1v1h-1zM1392 149h1v1h-1zM1393 149h1v1h-1zM1393 150h1v1h-1zM1394 149h1v1h-1zM1395 149h1v1h-1zM1395 150h1v1h-1zM1396 149h1v1h-1zM1397 150h1v1h-1zM1397 149h1v1h-1zM1398 150h1v1h-1zM1399 150h1v1h-1zM1399 149h1v1h-1zM1400 150h1v1h-1zM1401 150h1v1h-1zM1401 149h1v1h-1zM1402 150h1v1h-1zM1403 150h1v1h-1zM1404 150h1v1h-1zM1405 150h1v1h-1zM1406 150h1v1h-1zM1407 150h1v1h-1zM1407 151h1v1h-1zM1408 150h1v1h-1zM1410 150h1v2h-1zM1412 150h1v2h-1zM1414 150h1v2h-1zM1415 151h1v1h-1zM1415 150h1v1h-1zM1416 151h1v1h-1zM1417 151h1v1h-1zM1417 150h1v1h-1zM1418 151h1v1h-1zM1419 151h1v1h-1zM1420 151h1v1h-1zM1421 151h1v1h-1zM1422 151h1v1h-1zM1423 151h1v1h-1zM1423 152h1v1h-1zM1424 151h1v1h-1zM1425 151h1v1h-1z" fill="#000"/>
<path d="M75 119h31v1h-31zM106 118h45v1h-45zM151 117h100v1h-100zM251 116h80v1h-80zM331 115h50v1h-50zM381 114h35v1h-35zM416 113h25v1h-25zM441 112h23v1h-23zM464 111h23v1h-23zM487 110h19v1h-19zM506 109h15v1h-15zM521 108h15v1h-15zM536 107h15v1h-15zM551 106h15v1h-15zM566 105h15v1h-15zM581 104h12v1h-12zM593 103h13v1h-13zM606 102h12v1h-12zM618 101h13v1h-13zM631 100h13v1h-13zM644 99h13v1h-13zM657 98h13v1h-13zM670 97h13v1h-13zM683 96h12v1h-12zM695 95h12v1h-12zM707 94h12v1h-12zM719 93h12v1h-12zM731 92h10v1h-10zM741 91h10v1h-10zM751 90h10v1h-10zM761 89h10v1h-10zM771 88h10v1h-10zM781 87h9v1h-9zM790 86h9v1h-9zM799 85h9v1h-9zM808 84h10v1h-10zM818 83h9v1h-9zM827 82h9v1h-9zM836 81h8v1h-8zM844 80h8v1h-8zM852 79h9v1h-9zM861 78h8v1h-8zM869 77h8v1h-8zM877 76h8v1h-8zM885 75h8v1h-8zM893 74h9v1h-9zM902 73h8v1h-8zM910 72h8v1h-8zM918 71h9v1h-9zM927 70h9v1h-9zM936 69h10v1h-10zM946 68h9v1h-9zM955 67h9v1h-9zM964 66h10v1h-10zM974 65h10v1h-10zM984 64h10v1h-10zM994 63h11v1h-11zM1005 62h10v1h-10zM1015 61h10v1h-10zM1025 60h9v1h-9zM1034 59h9v1h-9zM1043 58h9v1h-9zM1052 57h9v1h-9zM1061 56h9v1h-9zM1070 55h13v1h-13zM1083 54h13v1h-13zM1096 53h14v1h-14zM1110 52h13v1h-13zM1123 51h12v1h-12zM1135 50h12v1h-12zM1147 49h12v1h-12zM1159 48h12v1h-12zM1171 47h14v1h-14zM1185 46h15v1h-15zM1200 45h14v1h-14zM1214 44h15v1h-15zM1229 43h15v1h-15zM1244 42h14v1h-14zM1258 41h15v1h-15zM1273 40h15v1h-15zM1288 39h20v1h-20zM1308 38h23v1h-23zM1331 37h22v1h-22zM1353 36h27v1h-27zM1380 35h27v1h-27zM1407 34h19v1h-19zM77 118h1v3h-1zM79 118h1v3h-1zM81 118h1v3h-1zM83 118h1v3h-1zM85 118h1v3h-1zM87 117h1v4h-1zM89 117h1v4h-1zM91 117h1v4h-1zM93 117h1v4h-1zM95 117h1v4h-1zM97 117h1v4h-1zM99 117h1v4h-1zM101 117h1v4h-1zM103 117h1v4h-1zM105 117h1v4h-1zM107 117h1v3h-1zM109 117h1v3h-1zM111 117h1v3h-1zM113 117h1v3h-1zM115 117h1v3h-1zM117 117h1v3h-1zM119 117h1v3h-1zM121 117h1v3h-1zM123 117h1v3h-1zM125 117h1v3h-1zM127 117h1v3h-1zM129 117h1v3h-1zM131 116h1v4h-1zM133 116h1v4h-1zM135 116h1v4h-1zM137 116h1v4h-1zM139 116h1v4h-1zM141 116h1v4h-1zM143 116h1v4h-1zM145 116h1v4h-1zM147 116h1v4h-1zM149 116h1v4h-1zM151 116h1v3h-1zM153 116h1v3h-1zM155 116h1v3h-1zM157 116h1v3h-1zM159 116h1v3h-1zM161 116h1v3h-1zM163 116h1v3h-1zM165 116h1v3h-1zM167 116h1v3h-1zM169 116h1v3h-1zM171 116h1v3h-1zM173 116h1v3h-1zM175 116h1v3h-1zM177 116h1v3h-1zM179 116h1v3h-1zM181 116h1v3h-1zM183 116h1v3h-1zM185 116h1v3h-1zM187 116h1v3h-1zM189 116h1v3h-1zM191 116h1v3h-1zM193 115h1v4h-1zM195 115h1v4h-1zM197 115h1v4h-1zM199 115h1v4h-1zM201 115h1v4h-1zM203 115h1v4h-1zM205 115h1v4h-1zM207 115h1v4h-1zM209 115h1v4h-1zM211 115h1v4h-1zM213 115h1v4h-1zM215 115h1v4h-1zM217 115h1v4h-1zM219 115h1v4h-1zM221 115h1v4h-1zM223 115h1v4h-1zM225 115h1v4h-1zM227 115h1v4h-1zM229 115h1v4h-1zM231 115h1v4h-1zM233 115h1v4h-1zM235 115h1v4h-1zM237 115h1v4h-1zM239 115h1v4h-1zM241 115h1v4h-1zM243 115h1v4h-1zM245 115h1v4h-1zM247 115h1v4h-1zM249 115h1v4h-1zM251 115h1v3h-1zM253 115h1v3h-1zM255 115h1v3h-1zM257 115h1v3h-1zM259 115h1v3h-1zM261 115h1v3h-1zM263 115h1v3h-1zM265 115h1v3h-1zM267 115h1v3h-1zM269 115h1v3h-1zM271 115h1v3h-1zM273 115h1v3h-1zM275 115h1v3h-1zM277 115h1v3h-1zM279 115h1v3h-1zM281 115h1v3h-1zM283 115h1v3h-1zM285 115h1v3h-1zM287 115h1v3h-1zM289 115h1v3h-1zM291 115h1v3h-1zM293 115h1v3h-1zM295 115h1v3h-1zM297 115h1v3h-1zM299 115h1v3h-1zM301 115h1v3h-1zM303 115h1v3h-1zM305 115h1v3h-1zM307 115h1v3h-1zM309 114h1v4h-1zM311 114h1v4h-1zM313 114h1v4h-1zM315 114h1v4h-1zM317 114h1v4h-1zM319 114h1v4h-1zM321 114h1v4h-1zM323 114h1v4h-1zM325 114h1v4h-1zM327 114h1v4h-1zM329 114h1v4h-1zM331 114h1v3h-1zM333 114h1v3h-1zM335 114h1v3h-1zM337 114h1v3h-1zM339 114h1v3h-1zM341 114h1v3h-1zM343 114h1v3h-1zM345 114h1v3h-1zM347 114h1v3h-1zM349 114h1v3h-1zM351 114h1v3h-1zM353 114h1v3h-1zM355 114h1v3h-1zM357 114h1v3h-1zM359 113h1v4h-1zM361 113h1v4h-1zM363 113h1v4h-1zM365 113h1v4h-1zM367 113h1v4h-1zM369 113h1v4h-1zM371 113h1v4h-1zM373 113h1v4h-1zM375 113h1v4h-1zM377 113h1v4h-1zM379 113h1v4h-1zM381 113h1v3h-1zM383 113h1v3h-1zM385 113h1v3h-1zM387 113h1v3h-1zM389 113h1v3h-1zM391 113h1v3h-1zM393 113h1v3h-1zM395 113h1v3h-1zM397 113h1v3h-1zM399 113h1v3h-1zM401 113h1v3h-1zM403 113h1v3h-1zM405 112h1v4h-1zM407 112h1v4h-1zM409 112h1v4h-1zM411 112h1v4h-1zM413 112h1v4h-1zM415 112h1v4h-1zM417 112h1v3h-1zM419 112h1v3h-1zM421 112h1v3h-1zM423 112h1v3h-1zM425 112h1v3h-1zM427 112h1v3h-1zM429 111h1v4h-1zM431 111h1v4h-1zM433 111h1v4h-1zM435 111h1v4h-1zM437 111h1v4h-1zM439 111h1v4h-1zM441 111h1v3h-1zM443 111h1v3h-1zM445 111h1v3h-1zM447 111h1v3h-1zM449 111h1v3h-1zM451 111h1v3h-1zM453 111h1v3h-1zM455 110h1v4h-1zM457 110h1v4h-1zM459 110h1v4h-1zM461 110h1v4h-1zM463 110h1v4h-1zM465 110h1v3h-1zM467 110h1v3h-1zM469 110h1v3h-1zM471 110h1v3h-1zM473 110h1v3h-1zM475 110h1v3h-1zM477 109h1v4h-1zM479 109h1v4h-1zM481 109h1v4h-1zM483 109h1v4h-1zM485 109h1v4h-1zM487 109h1v3h-1zM489 109h1v3h-1zM491 109h1v3h-1zM493 109h1v3h-1zM495 109h1v3h-1zM497 109h1v3h-1zM499 108h1v4h-1zM501 108h1v4h-1zM503 108h1v4h-1zM505 108h1v4h-1zM507 108h1v3h-1zM509 108h1v3h-1zM511 108h1v3h-1zM513 108h1v3h-1zM515 107h1v4h-1zM517 107h1v4h-1zM519 107h1v4h-1zM521 107h1v3h-1zM523 107h1v3h-1zM525 107h1v3h-1zM527 107h1v3h-1zM529 106h1v4h-1zM531 106h1v4h-1zM533 106h1v4h-1zM535 106h1v4h-1zM537 106h1v3h-1zM539 106h1v3h-1zM541 106h1v3h-1zM543 106h1v3h-1zM545 105h1v4h-1zM547 105h1v4h-1zM549 105h1v4h-1zM551 105h1v3h-1zM553 105h1v3h-1zM555 105h1v3h-1zM557 105h1v3h-1zM559 104h1v4h-1zM561 104h1v4h-1zM563 104h1v4h-1zM565 104h1v4h-1zM567 104h1v3h-1zM569 104h1v3h-1zM571 104h1v3h-1zM573 104h1v3h-1zM575 103h1v4h-1zM577 103h1v4h-1zM579 103h1v4h-1zM581 103h1v3h-1zM583 103h1v3h-1zM585 103h1v3h-1zM587 102h1v4h-1zM589 102h1v4h-1zM591 102h1v4h-1zM593 102h1v3h-1zM595 102h1v3h-1zM597 102h1v3h-1zM599 102h1v3h-1zM601 101h1v4h-1zM603 101h1v4h-1zM605 101h1v4h-1zM607 101h1v3h-1zM609 101h1v3h-1zM611 101h1v3h-1zM613 100h1v4h-1zM615 100h1v4h-1zM617 100h1v4h-1zM619 100h1v3h-1zM621 100h1v3h-1zM623 100h1v3h-1zM625 99h1v4h-1zM627 99h1v4h-1zM629 99h1v4h-1zM631 99h1v3h-1zM633 99h1v3h-1zM635 99h1v3h-1zM637 99h1v3h-1zM639 98h1v4h-1zM641 98h1v4h-1zM643 98h1v4h-1zM645 98h1v3h-1zM647 98h1v3h-1zM649 98h1v3h-1zM651 97h1v4h-1zM653 97h1v4h-1zM655 97h1v4h-1zM657 97h1v3h-1zM659 97h1v3h-1zM661 97h1v3h-1zM663 97h1v3h-1zM665 96h1v4h-1zM667 96h1v4h-1zM669 96h1v4h-1zM671 96h1v3h-1zM673 96h1v3h-1zM675 96h1v3h-1zM677 95h1v4h-1zM679 95h1v4h-1zM681 95h1v4h-1zM683 95h1v3h-1zM685 95h1v3h-1zM687 95h1v3h-1zM689 94h1v4h-1zM691 94h1v4h-1zM693 94h1v4h-1zM695 94h1v3h-1zM697 94h1v3h-1zM699 94h1v3h-1zM701 93h1v4h-1zM703 93h1v4h-1zM705 93h1v4h-1zM707 93h1v3h-1zM709 93h1v3h-1zM711 93h1v3h-1zM713 92h1v4h-1zM715 92h1v4h-1zM717 92h1v4h-1zM719 92h1v3h-1zM721 92h1v3h-1zM723 92h1v3h-1zM725 91h1v4h-1zM727 91h1v4h-1zM729 91h1v4h-1zM731 91h1v3h-1zM733 91h1v3h-1zM735 91h1v3h-1zM737 90h1v4h-1zM739 90h1v4h-1zM741 90h1v3h-1zM743 90h1v3h-1zM745 90h1v3h-1zM747 89h1v4h-1zM749 89h1v4h-1zM751 89h1v3h-1zM753 89h1v3h-1zM755 89h1v3h-1zM757 88h1v4h-1zM759 88h1v4h-1zM761 88h1v3h-1zM763 88h1v3h-1zM765 88h1v3h-1zM767 87h1v4h-1zM769 87h1v4h-1zM771 87h1v3h-1zM773 87h1v3h-1zM775 87h1v3h-1zM777 86h1v4h-1zM779 86h1v4h-1zM781 86h1v3h-1zM783 86h1v3h-1zM785 86h1v3h-1zM787 85h1v4h-1zM789 85h1v4h-1zM791 85h1v3h-1zM793 85h1v3h-1zM795 84h1v4h-1zM797 84h1v4h-1zM799 84h1v3h-1zM801 84h1v3h-1zM803 84h1v3h-1zM805 83h1v4h-1zM807 83h1v4h-1zM809 83h1v3h-1zM811 83h1v3h-1zM813 82h1v4h-1zM815 82h1v4h-1zM817 82h1v4h-1zM819 82h1v3h-1zM821 82h1v3h-1zM823 81h1v4h-1zM825 81h1v4h-1zM827 81h1v3h-1zM829 81h1v3h-1zM831 81h1v3h-1zM833 80h1v4h-1zM835 80h1v4h-1zM837 80h1v3h-1zM839 80h1v3h-1zM841 79h1v4h-1zM843 79h1v4h-1zM845 79h1v3h-1zM847 79h1v3h-1zM849 78h1v4h-1zM851 78h1v4h-1zM853 78h1v3h-1zM855 78h1v3h-1zM857 77h1v4h-1zM859 77h1v4h-1zM861 77h1v3h-1zM863 77h1v3h-1zM865 76h1v4h-1zM867 76h1v4h-1zM869 76h1v3h-1zM871 76h1v3h-1zM873 75h1v4h-1zM875 75h1v4h-1zM877 75h1v3h-1zM879 75h1v3h-1zM881 75h1v3h-1zM883 74h1v4h-1zM885 74h1v3h-1zM887 74h1v3h-1zM889 74h1v3h-1zM891 73h1v4h-1zM893 73h1v3h-1zM895 73h1v3h-1zM897 73h1v3h-1zM899 72h1v4h-1zM901 72h1v4h-1zM903 72h1v3h-1zM905 72h1v3h-1zM907 71h1v4h-1zM909 71h1v4h-1zM911 71h1v3h-1zM913 71h1v3h-1zM915 70h1v4h-1zM917 70h1v4h-1zM919 70h1v3h-1zM921 70h1v3h-1zM923 69h1v4h-1zM925 69h1v4h-1zM927 69h1v3h-1zM929 69h1v3h-1zM931 69h1v3h-1zM933 68h1v4h-1zM935 68h1v4h-1zM937 68h1v3h-1zM939 68h1v3h-1zM941 67h1v4h-1zM943 67h1v4h-1zM945 67h1v4h-1zM947 67h1v3h-1zM949 67h1v3h-1zM951 66h1v4h-1zM953 66h1v4h-1zM955 66h1v3h-1zM957 66h1v3h-1zM959 66h1v3h-1zM961 65h1v4h-1zM963 65h1v4h-1zM965 65h1v3h-1zM967 65h1v3h-1zM969 64h1v4h-1zM971 64h1v4h-1zM973 64h1v4h-1zM975 64h1v3h-1zM977 64h1v3h-1zM979 63h1v4h-1zM981 63h1v4h-1zM983 63h1v4h-1zM985 63h1v3h-1zM987 63h1v3h-1zM989 63h1v3h-1zM991 62h1v4h-1zM993 62h1v4h-1zM995 62h1v3h-1zM997 62h1v3h-1zM999 62h1v3h-1zM1001 61h1v4h-1zM1003 61h1v4h-1zM1005 61h1v3h-1zM1007 61h1v3h-1zM1009 61h1v3h-1zM1011 60h1v4h-1zM1013 60h1v4h-1zM1015 60h1v3h-1zM1017 60h1v3h-1zM1019 60h1v3h-1zM1021 59h1v4h-1zM1023 59h1v4h-1zM1025 59h1v3h-1zM1027 59h1v3h-1zM1029 59h1v3h-1zM1031 58h1v4h-1zM1033 58h1v4h-1zM1035 58h1v3h-1zM1037 58h1v3h-1zM1039 57h1v4h-1zM1041 57h1v4h-1zM1043 57h1v3h-1zM1045 57h1v3h-1zM1047 57h1v3h-1zM1049 56h1v4h-1zM1051 56h1v4h-1zM1053 56h1v3h-1zM1055 56h1v3h-1zM1057 55h1v4h-1zM1059 55h1v4h-1zM1061 55h1v3h-1zM1063 55h1v3h-1zM1065 55h1v3h-1zM1067 54h1v4h-1zM1069 54h1v4h-1zM1071 54h1v3h-1zM1073 54h1v3h-1zM1075 54h1v3h-1zM1077 53h1v4h-1zM1079 53h1v4h-1zM1081 53h1v4h-1zM1083 53h1v3h-1zM1085 53h1v3h-1zM1087 53h1v3h-1zM1089 53h1v3h-1zM1091 52h1v4h-1zM1093 52h1v4h-1zM1095 52h1v4h-1zM1097 52h1v3h-1zM1099 52h1v3h-1zM1101 52h1v3h-1zM1103 52h1v3h-1zM1105 51h1v4h-1zM1107 51h1v4h-1zM1109 51h1v4h-1zM1111 51h1v3h-1zM1113 51h1v3h-1zM1115 51h1v3h-1zM1117 50h1v4h-1zM1119 50h1v4h-1zM1121 50h1v4h-1zM1123 50h1v3h-1zM1125 50h1v3h-1zM1127 50h1v3h-1zM1129 49h1v4h-1zM1131 49h1v4h-1zM1133 49h1v4h-1zM1135 49h1v3h-1zM1137 49h1v3h-1zM1139 49h1v3h-1zM1141 48h1v4h-1zM1143 48h1v4h-1zM1145 48h1v4h-1zM1147 48h1v3h-1zM1149 48h1v3h-1zM1151 48h1v3h-1zM1153 47h1v4h-1zM1155 47h1v4h-1zM1157 47h1v4h-1zM1159 47h1v3h-1zM1161 47h1v3h-1zM1163 47h1v3h-1zM1165 46h1v4h-1zM1167 46h1v4h-1zM1169 46h1v4h-1zM1171 46h1v3h-1zM1173 46h1v3h-1zM1175 46h1v3h-1zM1177 46h1v3h-1zM1179 45h1v4h-1zM1181 45h1v4h-1zM1183 45h1v4h-1zM1185 45h1v3h-1zM1187 45h1v3h-1zM1189 45h1v3h-1zM1191 45h1v3h-1zM1193 44h1v4h-1zM1195 44h1v4h-1zM1197 44h1v4h-1zM1199 44h1v4h-1zM1201 44h1v3h-1zM1203 44h1v3h-1zM1205 44h1v3h-1zM1207 44h1v3h-1zM1209 43h1v4h-1zM1211 43h1v4h-1zM1213 43h1v4h-1zM1215 43h1v3h-1zM1217 43h1v3h-1zM1219 43h1v3h-1zM1221 43h1v3h-1zM1223 42h1v4h-1zM1225 42h1v4h-1zM1227 42h1v4h-1zM1229 42h1v3h-1zM1231 42h1v3h-1zM1233 42h1v3h-1zM1235 42h1v3h-1zM1237 41h1v4h-1zM1239 41h1v4h-1zM1241 41h1v4h-1zM1243 41h1v4h-1zM1245 41h1v3h-1zM1247 41h1v3h-1zM1249 41h1v3h-1zM1251 41h1v3h-1zM1253 40h1v4h-1zM1255 40h1v4h-1zM1257 40h1v4h-1zM1259 40h1v3h-1zM1261 40h1v3h-1zM1263 40h1v3h-1zM1265 40h1v3h-1zM1267 39h1v4h-1zM1269 39h1v4h-1zM1271 39h1v4h-1zM1273 39h1v3h-1zM1275 39h1v3h-1zM1277 39h1v3h-1zM1279 39h1v3h-1zM1281 38h1v4h-1zM1283 38h1v4h-1zM1285 38h1v4h-1zM1287 38h1v4h-1zM1289 38h1v3h-1zM1291 38h1v3h-1zM1293 38h1v3h-1zM1295 38h1v3h-1zM1297 38h1v3h-1zM1299 37h1v4h-1zM1301 37h1v4h-1zM1303 37h1v4h-1zM1305 37h1v4h-1zM1307 37h1v4h-1zM1309 37h1v3h-1zM1311 37h1v3h-1zM1313 37h1v3h-1zM1315 37h1v3h-1zM1317 37h1v3h-1zM1319 37h1v3h-1zM1321 36h1v4h-1zM1323 36h1v4h-1zM1325 36h1v4h-1zM1327 36h1v4h-1zM1329 36h1v4h-1zM1331 36h1v3h-1zM1333 36h1v3h-1zM1335 36h1v3h-1zM1337 36h1v3h-1zM1339 36h1v3h-1zM1341 36h1v3h-1zM1343 35h1v4h-1zM1345 35h1v4h-1zM1347 35h1v4h-1zM1349 35h1v4h-1zM1351 35h1v4h-1zM1353 35h1v3h-1zM1355 35h1v3h-1zM1357 35h1v3h-1zM1359 35h1v3h-1zM1361 35h1v3h-1zM1363 35h1v3h-1zM1365 35h1v3h-1zM1367 35h1v3h-1zM1369 34h1v4h-1zM1371 34h1v4h-1zM1373 34h1v4h-1zM1375 34h1v4h-1zM1377 34h1v4h-1zM1379 34h1v4h-1zM1381 34h1v3h-1zM1383 34h1v3h-1zM1385 34h1v3h-1zM1387 34h1v3h-1zM1389 34h1v3h-1zM1391 34h1v3h-1zM1393 34h1v3h-1zM1395 33h1v4h-1zM1397 33h1v4h-1zM1399 33h1v4h-1zM1401 33h1v4h-1zM1403 33h1v4h-1zM1405 33h1v4h-1zM1407 33h1v3h-1zM1409 33h1v3h-1zM1411 33h1v3h-1zM1413 33h1v3h-1zM1415 33h1v3h-1zM1417 33h1v3h-1zM1419 33h1v3h-1zM1421 32h1v4h-1zM1423 32h1v4h-1z" fill="#ff00ff"/>
<path d="M75 354h1351v1h-1351zM77 353h1v3h-1zM79 353h1v3h-1zM81 353h1v3h-1zM83 353h1v3h-1zM85 353h1v3h-1zM87 353h1v3h-1zM89 353h1v3h-1zM91 353h1v3h-1zM93 353h1v3h-1zM95 353h1v3h-1zM97 353h1v3h-1zM99 353h1v3h-1zM101 353h1v3h-1zM103 353h1v3h-1zM105 353h1v3h-1zM107 353h1v3h-1zM109 353h1v3h-1zM111 353h1v3h-1zM113 353h1v3h-1zM115 353h1v3h-1zM117 353h1v3h-1zM119 353h1v3h-1zM121 353h1v3h-1zM123 353h1v3h-1zM125 353h1v3h-1zM127 353h1v3h-1zM129 353h1v3h-1zM131 353h1v3h-1zM133 353h1v3h-1zM135 353h1v3h-1zM137 353h1v3h-1zM139 353h1v3h-1zM141 353h1v3h-1zM143 353h1v3h-1zM145 353h1v3h-1zM147 353h1v3h-1zM149 353h1v3h-1zM151 353h1v3h-1zM153 353h1v3h-1zM155 353h1v3h-1zM157 353h1v3h-1zM159 353h1v3h-1zM161 353h1v3h-1zM163 353h1v3h-1zM165 353h1v3h-1zM167 353h1v3h-1zM169 353h1v3h-1zM171 353h1v3h-1zM173 353h1v3h-1zM175 353h1v3h-1zM177 353h1v3h-1zM179 353h1v3h-1zM181 353h1v3h-1zM183 353h1v3h-1zM185 353h1v3h-1zM187 353h1v3h-1zM189 353h1v3h-1zM191 353h1v3h-1zM193 353h1v3h-1zM195 353h1v3h-1zM197 353h1v3h-1zM199 353h1v3h-1zM201 353h1v3h-1zM203 353h1v3h-1zM205 353h1v3h-1zM207 353h1v3h-1zM209 353h1v3h-1zM211 353h1v3h-1zM213 353h1v3h-1zM215 353h1v3h-1zM217 353h1v3h-1zM219 353h1v3h-1zM221 353h1v3h-1zM223 353h1v3h-1zM225 353h1v3h-1zM227 353h1v3h-1zM229 353h1v3h-1zM231 353h1v3h-1zM233 353h1v3h-1zM235 353h1v3h-1zM237 353h1v3h-1zM239 353h1v3h-1zM241 353h1v3h-1zM243 353h1v3h-1zM245 353h1v3h-1zM247 353h1v3h-1zM249 353h1v3h-1zM251 353h1v3h-1zM253 353h1v3h-1zM255 353h1v3h-1zM257 353h1v3h-1zM259 353h1v3h-1zM261 353h1v3h-1zM263 353h1v3h-1zM265 353h1v3h-1zM267 353h1v3h-1zM269 353h1v3h-1zM271 353h1v3h-1zM273 353h1v3h-1zM275 353h1v3h-1zM277 353h1v3h-1zM279 353h1v3h-1zM281 353h1v3h-1zM283 353h1v3h-1zM285 353h1v3h-1zM287 353h1v3h-1zM289 353h1v3h-1zM291 353h1v3h-1zM293 353h1v3h-1zM295 353h1v3h-1zM297 353h1v3h-1zM299 353h1v3h-1zM301 353h1v3h-1zM303 353h1v3h-1zM305 353h1v3h-1zM307 353h1v3h-1zM309 353h1v3h-1zM311 353h1v3h-1zM313 353h1v3h-1zM315 353h1v3h-1zM317 353h1v3h-1zM319 353h1v3h-1zM321 353h1v3h-1zM323 353h1v3h-1zM325 353h1v3h-1zM327 353h1v3h-1zM329 353h1v3h-1zM331 353h1v3h-1zM333 353h1v3h-1zM335 353h1v3h-1zM337 353h1v3h-1zM339 353h1v3h-1zM341 353h1v3h-1zM343 353h1v3h-1zM345 353h1v3h-1zM347 353h1v3h-1zM349 353h1v3h-1zM351 353h1v3h-1zM353 353h1v3h-1zM355 353h1v3h-1zM357 353h1v3h-1zM359 353h1v3h-1zM361 353h1v3h-1zM363 353h1v3h-1zM365 353h1v3h-1zM367 353h1v3h-1zM369 353h1v3h-1zM371 353h1v3h-1zM373 353h1v3h-1zM375 353h1v3h-1zM377 353h1v3h-1zM379 353h1v3h-1zM381 353h1v3h-1zM383 353h1v3h-1zM385 353h1v3h-1zM387 353h1v3h-1zM389 353h1v3h-1zM391 353h1v3h-1zM393 353h1v3h-1zM395 353h1v3h-1zM397 353h1v3h-1zM399 353h1v3h-1zM401 353h1v3h-1zM403 353h1v3h-1zM405 353h1v3h-1zM407 353h1v3h-1zM409 353h1v3h-1zM411 353h1v3h-1zM413 353h1v3h-1zM415 353h1v3h-1zM417 353h1v3h-1zM419 353h1v3h-1zM421 353h1v3h-1zM423 353h1v3h-1zM425 353h1v3h-1zM427 353h1v3h-1zM429 353h1v3h-1zM431 353h1v3h-1zM433 353h1v3h-1zM435 353h1v3h-1zM437 353h1v3h-1zM439 353h1v3h-1zM441 353h1v3h-1zM443 353h1v3h-1zM445 353h1v3h-1zM447 353h1v3h-1zM449 353h1v3h-1zM451 353h1v3h-1zM453 353h1v3h-1zM455 353h1v3h-1zM457 353h1v3h-1zM459 353h1v3h-1zM461 353h1v3h-1zM463 353h1v3h-1zM465 353h1v3h-1zM467 353h1v3h-1zM469 353h1v3h-1zM471 353h1v3h-1zM473 353h1v3h-1zM475 353h1v3h-1zM477 353h1v3h-1zM479 353h1v3h-1zM481 353h1v3h-1zM483 353h1v3h-1zM485 353h1v3h-1zM487 353h1v3h-1zM489 353h1v3h-1zM491 353h1v3h-1zM493 353h1v3h-1zM495 353h1v3h-1zM497 353h1v3h-1zM499 353h1v3h-1zM501 353h1v3h-1zM503 353h1v3h-1zM505 353h1v3h-1zM507 353h1v3h-1zM509 353h1v3h-1zM511 353h1v3h-1zM513 353h1v3h-1zM515 353h1v3h-1zM517 353h1v3h-1zM519 353h1v3h-1zM521 353h1v3h-1zM523 353h1v3h-1zM525 353h1v3h-1zM527 353h1v3h-1zM529 353h1v3h-1zM531 353h1v3h-1zM533 353h1v3h-1zM535 353h1v3h-1zM537 353h1v3h-1zM539 353h1v3h-1zM541 353h1v3h-1zM543 353h1v3h-1zM545 353h1v3h-1zM547 353h1v3h-1zM549 353h1v3h-1zM551 353h1v3h-1zM553 353h1v3h-1zM555 353h1v3h-1zM557 353h1v3h-1zM559 353h1v3h-1zM561 353h1v3h-1zM563 353h1v3h-1zM565 353h1v3h-1zM567 353h1v3h-1zM569 353h1v3h-1zM571 353h1v3h-1zM573 353h1v3h-1zM575 353h1v3h-1zM577 353h1v3h-1zM579 353h1v3h-1zM581 353h1v3h-1zM583 353h1v3h-1zM585 353h1v3h-1zM587 353h1v3h-1zM589 353h1v3h-1zM591 353h1v3h-1zM593 353h1v3h-1zM595 353h1v3h-1zM597 353h1v3h-1zM599 353h1v3h-1zM601 353h1v3h-1zM603 353h1v3h-1zM605 353h1v3h-1zM607 353h1v3h-1zM609 353h1v3h-1zM611 353h1v3h-1zM613 353h1v3h-1zM615 353h1v3h-1zM617 353h1v3h-1zM619 353h1v3h-1zM621 353h1v3h-1zM623 353h1v3h-1zM625 353h1v3h-1zM627 353h1v3h-1zM629 353h1v3h-1zM631 353h1v3h-1zM633 353h1v3h-1zM635 353h1v3h-1zM637 353h1v3h-1zM639 353h1v3h-1zM641 353h1v3h-1zM643 353h1v3h-1zM645 353h1v3h-1zM647 353h1v3h-1zM649 353h1v3h-1zM651 353h1v3h-1zM653 353h1v3h-1zM655 353h1v3h-1zM657 353h1v3h-1zM659 353h1v3h-1zM661 353h1v3h-1zM663 353h1v3h-1zM665 353h1v3h-1zM667 353h1v3h-1zM669 353h1v3h-1zM671 353h1v3h-1zM673 353h1v3h-1zM675 353h1v3h-1zM677 353h1v3h-1zM679 353h1v3h-1zM681 353h1v3h-1zM683 353h1v3h-1zM685 353h1v3h-1zM687 353h1v3h-1zM689 353h1v3h-1zM691 353h1v3h-1zM693 353h1v3h-1zM695 353h1v3h-1zM697 353h1v3h-1zM699 353h1v3h-1zM701 353h1v3h-1zM703 353h1v3h-1zM705 353h1v3h-1zM707 353h1v3h-1zM709 353h1v3h-1zM711 353h1v3h-1zM713 353h1v3h-1zM715 353h1v3h-1zM717 353h1v3h-1zM719 353h1v3h-1zM721 353h1v3h-1zM723 353h1v3h-1zM725 353h1v3h-1zM727 353h1v3h-1zM729 353h1v3h-1zM731 353h1v3h-1zM733 353h1v3h-1zM735 353h1v3h-1zM737 353h1v3h-1zM739 353h1v3h-1zM741 353h1v3h-1zM743 353h1v3h-1zM745 353h1v3h-1zM747 353h1v3h-1zM749 353h1v3h-1zM751 353h1v3h-1zM753 353h1v3h-1zM755 353h1v3h-1zM757 353h1v3h-1zM759 353h1v3h-1zM761 353h1v3h-1zM763 353h1v3h-1zM765 353h1v3h-1zM767 353h1v3h-1zM769 353h1v3h-1zM771 353h1v3h-1zM773 353h1v3h-1zM775 353h1v3h-1zM777 353h1v3h-1zM779 353h1v3h-1zM781 353h1v3h-1zM783 353h1v3h-1zM785 353h1v3h-1zM787 353h1v3h-1zM789 353h1v3h-1zM791 353h1v3h-1zM793 353h1v3h-1zM795 353h1v3h-1zM797 353h1v3h-1zM799 353h1v3h-1zM801 353h1v3h-1zM803 353h1v3h-1zM805 353h1v3h-1zM807 353h1v3h-1zM809 353h1v3h-1zM811 353h1v3h-1zM813 353h1v3h-1zM815 353h1v3h-1zM817 353h1v3h-1zM819 353h1v3h-1zM821 353h1v3h-1zM823 353h1v3h-1zM825 353h1v3h-1zM827 353h1v3h-1zM829 353h1v3h-1zM831 353h1v3h-1zM833 353h1v3h-1zM835 353h1v3h-1zM837 353h1v3h-1zM839 353h1v3h-1zM841 353h1v3h-1zM843 353h1v3h-1zM845 353h1v3h-1zM847 353h1v3h-1zM849 353h1v3h-1zM851 353h1v3h-1zM853 353h1v3h-1zM855 353h1v3h-1zM857 353h1v3h-1zM859 353h1v3h-1zM861 353h1v3h-1zM863 353h1v3h-1zM865 353h1v3h-1zM867 353h1v3h-1zM869 353h1v3h-1zM871 353h1v3h-1zM873 353h1v3h-1zM875 353h1v3h-1zM877 353h1v3h-1zM879 353h1v3h-1zM881 353h1v3h-1zM883 353h1v3h-1zM885 353h1v3h-1zM887 353h1v3h-1zM889 353h1v3h-1zM891 353h1v3h-1zM893 353h1v3h-1zM895 353h1v3h-1zM897 353h1v3h-1zM899 353h1v3h-1zM901 353h1v3h-1zM903 353h1v3h-1zM905 353h1v3h-1zM907 353h1v3h-1zM909 353h1v3h-1zM911 353h1v3h-1zM913 353h1v3h-1zM915 353h1v3h-1zM917 353h1v3h-1zM919 353h1v3h-1zM921 353h1v3h-1zM923 353h1v3h-1zM925 353h1v3h-1zM927 353h1v3h-1zM929 353h1v3h-1zM931 353h1v3h-1zM933 353h1v3h-1zM935 353h1v3h-1zM937 353h1v3h-1zM939 353h1v3h-1zM941 353h1v3h-1zM943 353h1v3h-1zM945 353h1v3h-1zM947 353h1v3h-1zM949 353h1v3h-1zM951 353h1v3h-1zM953 353h1v3h-1zM955 353h1v3h-1zM957 353h1v3h-1zM959 353h1v3h-1zM961 353h1v3h-1zM963 353h1v3h-1zM965 353h1v3h-1zM967 353h1v3h-1zM969 353h1v3h-1zM971 353h1v3h-1zM973 353h1v3h-1zM975 353h1v3h-1zM977 353h1v3h-1zM979 353h1v3h-1zM981 353h1v3h-1zM983 353h1v3h-1zM985 353h1v3h-1zM987 353h1v3h-1zM989 353h1v3h-1zM991 353h1v3h-1zM993 353h1v3h-1zM995 353h1v3h-1zM997 353h1v3h-1zM999 353h1v3h-1zM1001 353h1v3h-1zM1003 353h1v3h-1zM1005 353h1v3h-1zM1007 353h1v3h-1zM1009 353h1v3h-1zM1011 353h1v3h-1zM1013 353h1v3h-1zM1015 353h1v3h-1zM1017 353h1v3h-1zM1019 353h1v3h-1zM1021 353h1v3h-1zM1023 353h1v3h-1zM1025 353h1v3h-1zM1027 353h1v3h-1zM1029 353h1v3h-1zM1031 353h1v3h-1zM1033 353h1v3h-1zM1035 353h1v3h-1zM1037 353h1v3h-1zM1039 353h1v3h-1zM1041 353h1v3h-1zM1043 353h1v3h-1zM1045 353h1v3h-1zM1047 353h1v3h-1zM1049 353h1v3h-1zM1051 353h1v3h-1zM1053 353h1v3h-1zM1055 353h1v3h-1zM1057 353h1v3h-1zM1059 353h1v3h-1zM1061 353h1v3h-1zM1063 353h1v3h-1zM1065 353h1v3h-1zM1067 353h1v3h-1zM1069 353h1v3h-1zM1071 353h1v3h-1zM1073 353h1v3h-1zM1075 353h1v3h-1zM1077 353h1v3h-1zM1079 353h1v3h-1zM1081 353h1v3h-1zM1083 353h1v3h-1zM1085 353h1v3h-1zM1087 353h1v3h-1zM1089 353h1v3h-1zM1091 353h1v3h-1zM1093 353h1v3h-1zM1095 353h1v3h-1zM1097 353h1v3h-1zM1099 353h1v3h-1zM1101 353h1v3h-1zM1103 353h1v3h-1zM1105 353h1v3h-1zM1107 353h1v3h-1zM1109 353h1v3h-1zM1111 353h1v3h-1zM1113 353h1v3h-1zM1115 353h1v3h-1zM1117 353h1v3h-1zM1119 353h1v3h-1zM1121 353h1v3h-1zM1123 353h1v3h-1zM1125 353h1v3h-1zM1127 353h1v3h-1zM1129 353h1v3h-1zM1131 353h1v3h-1zM1133 353h1v3h-1zM1135 353h1v3h-1zM1137 353h1v3h-1zM1139 353h1v3h-1zM1141 353h1v3h-1zM1143 353h1v3h-1zM1145 353h1v3h-1zM1147 353h1v3h-1zM1149 353h1v3h-1zM1151 353h1v3h-1zM1153 353h1v3h-1zM1155 353h1v3h-1zM1157 353h1v3h-1zM1159 353h1v3h-1zM1161 353h1v3h-1zM1163 353h1v3h-1zM1165 353h1v3h-1zM1167 353h1v3h-1zM1169 353h1v3h-1zM1171 353h1v3h-1zM1173 353h1v3h-1zM1175 353h1v3h-1zM1177 353h1v3h-1zM1179 353h1v3h-1zM1181 353h1v3h-1zM1183 353h1v3h-1zM1185 353h1v3h-1zM1187 353h1v3h-1zM1189 353h1v3h-1zM1191 353h1v3h-1zM1193 353h1v3h-1zM1195 353h1v3h-1zM1197 353h1v3h-1zM1199 353h1v3h-1zM1201 353h1v3h-1zM1203 353h1v3h-1zM1205 353h1v3h-1zM1207 353h1v3h-1zM1209 353h1v3h-1zM1211 353h1v3h-1zM1213 353h1v3h-1zM1215 353h1v3h-1zM1217 353h1v3h-1zM1219 353h1v3h-1zM1221 353h1v3h-1zM1223 353h1v3h-1zM1225 353h1v3h-1zM1227 353h1v3h-1zM1229 353h1v3h-1zM1231 353h1v3h-1zM1233 353h1v3h-1zM1235 353h1v3h-1zM1237 353h1v3h-1zM1239 353h1v3h-1zM1241 353h1v3h-1zM1243 353h1v3h-1zM1245 353h1v3h-1zM1247 353h1v3h-1zM1249 353h1v3h-1zM1251 353h1v3h-1zM1253 353h1v3h-1zM1255 353h1v3h-1zM1257 353h1v3h-1zM1259 353h1v3h-1zM1261 353h1v3h-1zM1263 353h1v3h-1zM1265 353h1v3h-1zM1267 353h1v3h-1zM1269 353h1v3h-1zM1271 353h1v3h-1zM1273 353h1v3h-1zM1275 353h1v3h-1zM1277 353h1v3h-1zM1279 353h1v3h-1zM1281 353h1v3h-1zM1283 353h1v3h-1zM1285 353h1v3h-1zM1287 353h1v3h-1zM1289 353h1v3h-1zM1291 353h1v3h-1zM1293 353h1v3h-1zM1295 353h1v3h-1zM1297 353h1v3h-1zM1299 353h1v3h-1zM1301 353h1v3h-1zM1303 353h1v3h-1zM1305 353h1v3h-1zM1307 353h1v3h-1zM1309 353h1v3h-1zM1311 353h1v3h-1zM1313 353h1v3h-1zM1315 353h1v3h-1zM1317 353h1v3h-1zM1319 353h1v3h-1zM1321 353h1v3h-1zM1323 353h1v3h-1zM1325 353h1v3h-1zM1327 353h1v3h-1zM1329 353h1v3h-1zM1331 353h1v3h-1zM1333 353h1v3h-1zM1335 353h1v3h-1zM1337 353h1v3h-1zM1339 353h1v3h-1zM1341 353h1v3h-1zM1343 353h1v3h-1zM1345 353h1v3h-1zM1347 353h1v3h-1zM1349 353h1v3h-1zM1351 353h1v3h-1zM1353 353h1v3h-1zM1355 353h1v3h-1zM1357 353h1v3h-1zM1359 353h1v3h-1zM1361 353h1v3h-1zM1363 353h1v3h-1zM1365 353h1v3h-1zM1367 353h1v3h-1zM1369 353h1v3h-1zM1371 353h1v3h-1zM1373 353h1v3h-1zM1375 353h1v3h-1zM1377 353h1v3h-1zM1379 353h1v3h-1zM1381 353h1v3h-1zM1383 353h1v3h-1zM1385 353h1v3h-1zM1387 353h1v3h-1zM1389 353h1v3h-1zM1391 353h1v3h-1zM1393 353h1v3h-1zM1395 353h1v3h-1zM1397 353h1v3h-1zM1399 353h1v3h-1zM1401 353h1v3h-1zM1403 353h1v3h-1zM1405 353h1v3h-1zM1407 353h1v3h-1zM1409 353h1v3h-1zM1411 353h1v3h-1zM1413 353h1v3h-1zM1415 353h1v3h-1zM1417 353h1v3h-1zM1419 353h1v3h-1zM1421 353h1v3h-1zM1423 353h1v3h-1z" fill="#000"/>
</g>
<g stroke-width="0.12">
<text x="71.8" y="43.2" font-size="11.5" text-anchor="end" fill="#000" stroke="#000" textLength="12" lengthAdjust="spacingAndGlyphs">12</text>
<text x="71.8" y="77.2" font-size="11.5" text-anchor="end" fill="#000" stroke="#000" textLength="12" lengthAdjust="spacingAndGlyphs">10</text>
<text x="71.8" y="111.2" font-size="11.5" text-anchor="end" fill="#000" stroke="#000" textLength="6" lengthAdjust="spacingAndGlyphs">8</text>
<text x="71.8" y="145.2" font-size="11.5" text-anchor="end" fill="#000" stroke="#000" textLength="6" lengthAdjust="spacingAndGlyphs">6</text>
<text x="71.8" y="179.2" font-size="11.5" text-anchor="end" fill="#000" stroke="#000" textLength="6" lengthAdjust="spacingAndGlyphs">4</text>
<text x="71.8" y="208.5" font-size="11.5" text-anchor="end" fill="#000" stroke="#000" textLength="16" lengthAdjust="spacingAndGlyphs">1.0</text>
<text x="71.8" y="246.5" font-size="11.5" text-anchor="end" fill="#000" stroke="#000" textLength="17" lengthAdjust="spacingAndGlyphs">0.5</text>
<text x="71.8" y="283.5" font-size="11.5" text-anchor="end" fill="#000" stroke="#000" textLength="17" lengthAdjust="spacingAndGlyphs">0.0</text>
<text x="71.8" y="320.5" font-size="11.5" text-anchor="end" fill="#000" stroke="#000" textLength="25" lengthAdjust="spacingAndGlyphs">−0.5</text>
<text x="71.8" y="358.5" font-size="11.5" text-anchor="end" fill="#000" stroke="#000" textLength="24.5" lengthAdjust="spacingAndGlyphs">−1.0</text>
<text x="1428.6" y="38.5" font-size="11.5" text-anchor="start" fill="#ff00ff" stroke="#ff00ff" textLength="20.5" lengthAdjust="spacingAndGlyphs">500</text>
<text x="1428.6" y="80.5" font-size="11.5" text-anchor="start" fill="#ff00ff" stroke="#ff00ff" textLength="20.5" lengthAdjust="spacingAndGlyphs">450</text>
<text x="1428.6" y="122.5" font-size="11.5" text-anchor="start" fill="#ff00ff" stroke="#ff00ff" textLength="20.5" lengthAdjust="spacingAndGlyphs">400</text>
<text x="1428.6" y="164.5" font-size="11.5" text-anchor="start" fill="#ff00ff" stroke="#ff00ff" textLength="20.5" lengthAdjust="spacingAndGlyphs">350</text>
<text x="124.5" y="384.5" font-size="11.5" text-anchor="middle" fill="#000" stroke="#000" textLength="30.8" lengthAdjust="spacingAndGlyphs">12:00</text>
<text x="124.2" y="393.8" font-size="10" text-anchor="middle" fill="#000" stroke="#000" textLength="35.5" lengthAdjust="spacingAndGlyphs">Mar.19</text>
<text x="334.59" y="384.5" font-size="11.5" text-anchor="middle" fill="#000" stroke="#000" textLength="24.5" lengthAdjust="spacingAndGlyphs">0:00</text>
<text x="331.89" y="393.8" font-size="10" text-anchor="middle" fill="#000" stroke="#000" textLength="35.5" lengthAdjust="spacingAndGlyphs">Mar.20</text>
<text x="539.88" y="384.5" font-size="11.5" text-anchor="middle" fill="#000" stroke="#000" textLength="30.8" lengthAdjust="spacingAndGlyphs">12:00</text>
<text x="539.58" y="393.8" font-size="10" text-anchor="middle" fill="#000" stroke="#000" textLength="35.5" lengthAdjust="spacingAndGlyphs">Mar.20</text>
<text x="749.97" y="384.5" font-size="11.5" text-anchor="middle" fill="#000" stroke="#000" textLength="24.5" lengthAdjust="spacingAndGlyphs">0:00</text>
<text x="747.2700000000001" y="393.8" font-size="10" text-anchor="middle" fill="#000" stroke="#000" textLength="35.5" lengthAdjust="spacingAndGlyphs">Mar.21</text>
<text x="955.26" y="384.5" font-size="11.5" text-anchor="middle" fill="#000" stroke="#000" textLength="30.8" lengthAdjust="spacingAndGlyphs">12:00</text>
<text x="954.96" y="393.8" font-size="10" text-anchor="middle" fill="#000" stroke="#000" textLength="35.5" lengthAdjust="spacingAndGlyphs">Mar.21</text>
<text x="1165.3500000000001" y="384.5" font-size="11.5" text-anchor="middle" fill="#000" stroke="#000" textLength="24.5" lengthAdjust="spacingAndGlyphs">0:00</text>
<text x="1162.65" y="393.8" font-size="10" text-anchor="middle" fill="#000" stroke="#000" textLength="35.5" lengthAdjust="spacingAndGlyphs">Mar.22</text>
<text x="1370.64" y="384.5" font-size="11.5" text-anchor="middle" fill="#000" stroke="#000" textLength="30.8" lengthAdjust="spacingAndGlyphs">12:00</text>
<text x="1370.3400000000001" y="393.8" font-size="10" text-anchor="middle" fill="#000" stroke="#000" textLength="35.5" lengthAdjust="spacingAndGlyphs">Mar.22</text>
<text x="620.3" y="405.7" font-size="10.5" text-anchor="start" fill="#000" stroke="#000" textLength="78.3" lengthAdjust="spacingAndGlyphs">hours:minutes,</text>
<text x="704" y="405.7" font-size="10.5" text-anchor="start" fill="#000" stroke="#000" textLength="22" lengthAdjust="spacingAndGlyphs">Mar.</text>
<text x="734.6" y="405.7" font-size="10.5" text-anchor="start" fill="#000" stroke="#000" textLength="15.5" lengthAdjust="spacingAndGlyphs">19,</text>
<text x="754.4" y="405.7" font-size="10.5" text-anchor="start" fill="#000" stroke="#000" textLength="27.6" lengthAdjust="spacingAndGlyphs">2014</text>
<text x="788.4" y="405.7" font-size="10.5" text-anchor="start" fill="#000" stroke="#000" textLength="8" lengthAdjust="spacingAndGlyphs">−</text>
<text x="802.3" y="405.7" font-size="10.5" text-anchor="start" fill="#000" stroke="#000" textLength="22.5" lengthAdjust="spacingAndGlyphs">Mar.</text>
<text x="829.5" y="405.7" font-size="10.5" text-anchor="start" fill="#000" stroke="#000" textLength="17.5" lengthAdjust="spacingAndGlyphs">22,</text>
<text x="851.9" y="405.7" font-size="10.5" text-anchor="start" fill="#000" stroke="#000" textLength="28.4" lengthAdjust="spacingAndGlyphs">2014</text>
<text transform="translate(20.2 99.2) rotate(-90)" font-size="11" text-anchor="middle" fill="#000" stroke="#000" textLength="28.5" lengthAdjust="spacingAndGlyphs">ENLIL</text>
<text transform="translate(30.0 128.5) rotate(-90)" font-size="10" text-anchor="start" fill="#000" stroke="#000" textLength="11.6" lengthAdjust="spacing">Ion</text>
<text transform="translate(30.0 108.4) rotate(-90)" font-size="10" text-anchor="start" fill="#000" stroke="#000" textLength="37.3" lengthAdjust="spacingAndGlyphs">Density</text>
<text transform="translate(48.9 99.4) rotate(-90)" font-size="12" text-anchor="middle" fill="#000" stroke="#000" textLength="35.5" lengthAdjust="spacingAndGlyphs">[cm<tspan dy="-4.5" font-size="8">−3</tspan><tspan dy="4.5">]</tspan></text>
<text transform="translate(18.4 279.2) rotate(-90)" font-size="11" text-anchor="middle" fill="#000" stroke="#000" textLength="28.5" lengthAdjust="spacingAndGlyphs">ENLIL</text>
<text transform="translate(27.3 306.7) rotate(-90)" font-size="10" text-anchor="start" fill="#000" stroke="#000">B</text>
<text transform="translate(29.9 300.1) rotate(-90)" font-size="8" text-anchor="start" fill="#000" stroke="#000">r</text>
<text transform="translate(27.6 291.8) rotate(-90)" font-size="9.3" text-anchor="start" fill="#000" stroke="#000" textLength="39.6" lengthAdjust="spacingAndGlyphs">polarity</text>
<text transform="translate(1460.8 99.5) rotate(-90)" font-size="10.2" text-anchor="middle" fill="#000" stroke="#000" textLength="27.6" lengthAdjust="spacingAndGlyphs">ENLIL</text>
<text transform="translate(1469.1 99.9) rotate(-90)" font-size="9.4" text-anchor="middle" fill="#000" stroke="#000" textLength="40.4" lengthAdjust="spacingAndGlyphs">Velocity</text>
<text transform="translate(1480.7 99.4) rotate(-90)" font-size="12" text-anchor="middle" fill="#000" stroke="#000" textLength="37.5" lengthAdjust="spacingAndGlyphs">[km/s]</text>
</g>
</svg>
</body></html>
